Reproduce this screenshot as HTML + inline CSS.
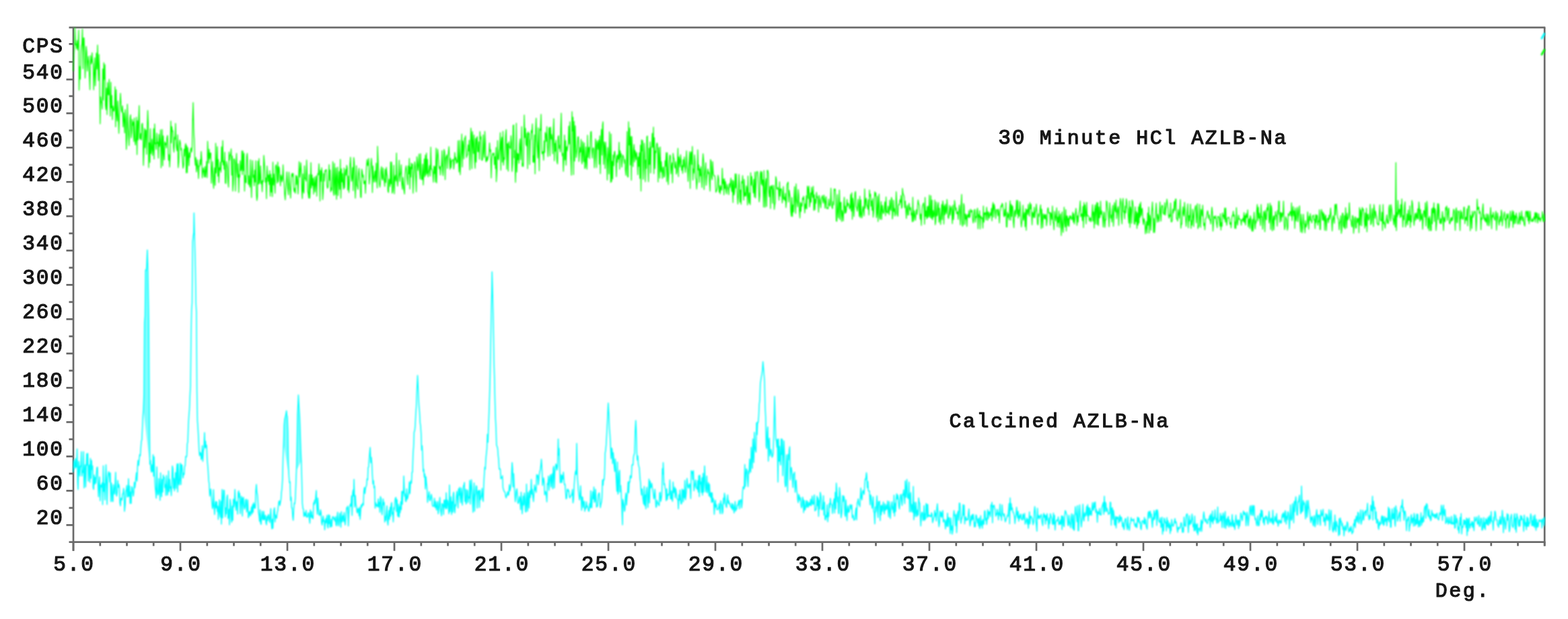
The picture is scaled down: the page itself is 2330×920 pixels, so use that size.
<!DOCTYPE html>
<html lang="en"><head><meta charset="utf-8"><title>XRD patterns</title>
<style>
html,body{margin:0;padding:0;background:#fff}
body{width:2330px;height:920px;overflow:hidden}
svg{display:block}
.t text{font-family:"Liberation Mono","DejaVu Sans Mono",monospace;font-weight:normal;font-size:31.2px;letter-spacing:1.8px;fill:#161616;stroke:#161616;stroke-width:1.2px;stroke-linejoin:round}
.t text.a{font-size:30px;letter-spacing:2.5px}
.t tspan.d{font-size:31.2px;letter-spacing:1.8px}
.c{fill:none;stroke-linejoin:round;stroke-linecap:round}
</style></head>
<body>
<svg width="2330" height="920" viewBox="0 0 2330 920">
<rect width="2330" height="920" fill="#fff"/>
<g stroke="#6a6a6a" stroke-width="2.7" fill="none" stroke-linecap="butt">
<path d="M102.5 40.8H2296.3"/>
<path d="M109.0 40.8V818.8"/>
<path d="M102.5 805.6H2296.3"/>
<path d="M2295.2 40.8V811.6"/>
<path d="M98.5 780.3H109.0M102.5 754.8H109.0M98.5 729.3H109.0M102.5 703.8H109.0M98.5 678.3H109.0M102.5 652.8H109.0M98.5 627.3H109.0M102.5 601.8H109.0M98.5 576.3H109.0M102.5 550.8H109.0M98.5 525.3H109.0M102.5 499.8H109.0M98.5 474.3H109.0M102.5 448.8H109.0M98.5 423.3H109.0M102.5 397.8H109.0M98.5 372.3H109.0M102.5 346.8H109.0M98.5 321.3H109.0M102.5 295.8H109.0M98.5 270.3H109.0M102.5 244.8H109.0M98.5 219.3H109.0M102.5 193.8H109.0M98.5 168.3H109.0M102.5 142.8H109.0M98.5 118.2H109.0M102.5 92.0H109.0M102.5 65.4H109.0"/>
<path d="M109.0 805.6V818.8M148.8 805.6V811.6M188.5 805.6V811.6M228.2 805.6V811.6M268.0 805.6V818.8M307.8 805.6V811.6M347.5 805.6V811.6M387.2 805.6V811.6M427.0 805.6V818.8M466.8 805.6V811.6M506.5 805.6V811.6M546.2 805.6V811.6M586.0 805.6V818.8M625.8 805.6V811.6M665.5 805.6V811.6M705.2 805.6V811.6M745.0 805.6V818.8M784.8 805.6V811.6M824.5 805.6V811.6M864.2 805.6V811.6M904.0 805.6V818.8M943.8 805.6V811.6M983.5 805.6V811.6M1023.2 805.6V811.6M1063.0 805.6V818.8M1102.8 805.6V811.6M1142.5 805.6V811.6M1182.2 805.6V811.6M1222.0 805.6V818.8M1261.8 805.6V811.6M1301.5 805.6V811.6M1341.2 805.6V811.6M1381.0 805.6V818.8M1420.8 805.6V811.6M1460.5 805.6V811.6M1500.2 805.6V811.6M1540.0 805.6V818.8M1579.8 805.6V811.6M1619.5 805.6V811.6M1659.2 805.6V811.6M1699.0 805.6V818.8M1738.8 805.6V811.6M1778.5 805.6V811.6M1818.2 805.6V811.6M1858.0 805.6V818.8M1897.8 805.6V811.6M1937.5 805.6V811.6M1977.2 805.6V811.6M2017.0 805.6V818.8M2056.8 805.6V811.6M2096.5 805.6V811.6M2136.2 805.6V811.6M2176.0 805.6V818.8M2215.8 805.6V811.6M2255.5 805.6V811.6M2295.2 805.6V811.6"/>
</g>
<defs><filter id="b" x="0" y="0" width="2330" height="920" filterUnits="userSpaceOnUse"><feGaussianBlur stdDeviation="0.9"/></filter></defs>
<g filter="url(#b)">
<polygon fill="#00ffff" fill-opacity="0.5" points="213.1,609.4 213.9,585.8 214.7,479.2 215.5,469.6 216.3,401.4 217.1,402.3 217.9,396.5 218.9,371.5 219.5,389.8 220.3,429.7 221.1,478.3 221.9,599.2 222.7,690.1"/>
<polygon fill="#00ffff" fill-opacity="0.5" points="421.4,659.5 422.2,631.8 423.0,623.2 423.8,620.0 424.6,616.8 425.7,610.5 426.2,616.4 427.0,619.8 427.8,641.0 428.6,691.2 429.4,708.2"/>
<polygon fill="#00ffff" fill-opacity="0.5" points="440.5,699.5 441.3,667.1 442.1,617.4 442.9,599.9 443.4,587.0 444.5,607.8 445.3,619.7 446.1,641.9 446.9,667.4 447.7,685.1"/>
<polyline class="c" stroke="#00ffff" stroke-width="1.55" stroke-opacity="1" points="109.0,701.5 109.8,684.1 110.6,690.2 111.4,696.1 112.2,681.5 113.0,693.5 113.8,694.6 114.6,667.2 115.4,716.1 116.0,727.5 117.0,685.8 117.7,694.6 118.5,707.4 119.3,692.9 120.1,693.2 120.9,671.2 121.7,707.5 122.5,699.7 123.3,702.2 124.1,671.2 124.9,725.2 125.7,699.8 126.5,690.8 127.3,723.8 128.1,696.3 128.9,674.3 129.7,691.5 130.5,674.0 131.3,715.0 132.1,694.5 132.9,691.0 133.6,717.0 134.4,681.3 135.2,711.1 136.0,684.3 136.8,697.8 137.6,692.5 138.4,724.8 139.2,727.3 140.0,706.0 140.8,719.4 141.6,709.6 142.4,718.0 143.2,705.1 144.0,695.0 144.8,694.3 145.6,719.9 146.4,738.3 147.2,720.2 148.0,708.8 148.8,744.2 149.5,722.2 150.3,720.6 151.1,724.1 151.9,717.5 152.5,750.0 153.5,692.3 154.3,730.3 155.1,718.8 155.9,743.1 156.7,713.9 157.5,690.8 158.3,719.0 159.1,749.8 159.9,714.2 160.7,705.8 161.5,701.0 162.3,703.8 163.1,716.4 163.9,702.7 164.7,745.4 165.4,717.8 166.2,724.2 167.0,744.5 167.8,745.5 168.6,720.3 169.4,728.6 170.2,734.5 171.0,721.7 171.8,702.0 172.6,733.9 173.4,737.3 174.2,731.1 175.0,714.1 175.8,724.3 176.6,720.0 177.4,724.7 178.2,747.4 179.0,751.8 179.8,740.9 180.6,740.2 181.3,743.1 182.1,734.0 182.9,734.0 183.7,725.9 184.5,736.1 185.0,760.0 186.1,749.5 186.9,730.5 187.7,727.9 188.5,721.5 189.3,738.6 190.1,737.9 190.9,711.5 191.7,737.5 192.5,722.3 193.3,748.2 194.1,731.2 194.9,748.3 195.7,723.4 196.5,725.1 197.2,730.8 198.0,737.3 198.8,732.0 199.6,716.7 200.4,725.0 201.2,718.4 202.0,709.6 202.8,702.5 203.6,714.9 204.4,693.4 205.2,684.3 206.0,691.7 206.8,682.5 207.6,675.7 208.4,677.5 209.2,666.2 210.0,656.3 210.8,653.5 211.6,636.8 212.4,617.2 213.1,609.4 213.9,585.8 214.7,479.2 215.5,469.6 216.3,401.4 217.1,402.3 217.9,396.5 218.9,371.5 219.5,389.8 220.3,429.7 221.1,478.3 221.9,599.2 222.7,690.1 223.5,684.4 224.3,697.5 225.1,701.7 225.9,690.7 226.7,700.8 227.5,675.7 228.3,707.7 229.0,678.9 229.8,707.1 230.6,723.8 231.4,731.2 232.2,740.5 233.0,693.9 233.8,728.8 234.6,735.7 235.4,733.6 236.2,711.3 237.0,727.6 237.8,743.6 238.6,702.7 239.4,729.0 240.2,738.2 241.0,712.4 241.8,731.2 242.6,706.1 243.4,709.8 244.2,709.5 244.9,724.8 245.7,720.3 246.5,736.2 247.3,706.8 248.1,719.1 248.9,735.8 249.7,729.4 250.5,699.9 251.3,730.7 252.1,712.6 252.9,725.6 253.7,723.5 254.5,736.6 255.3,719.2 256.1,692.6 256.9,696.3 257.7,725.8 258.5,711.0 259.3,729.6 260.1,716.9 260.8,702.5 261.6,726.0 262.4,700.6 263.2,689.5 264.0,731.2 264.8,689.2 265.6,717.5 266.4,720.8 267.2,710.6 268.0,688.4 268.8,720.3 269.6,690.5 270.4,691.1 271.2,700.7 272.0,710.4 272.8,703.3 273.6,705.3 274.4,693.0 275.2,692.4 276.0,678.4 276.7,679.2 277.5,678.1 278.3,659.6 279.1,656.5 279.9,632.4 280.7,617.9 281.5,608.8 282.3,588.3 283.1,573.2 283.9,500.2 284.7,460.2 285.5,450.0 286.3,358.8 287.1,351.2 287.9,345.5 288.3,316.5 289.5,366.8 290.3,397.2 291.1,449.3 291.9,464.4 292.6,580.3 293.4,625.7 294.2,637.0 295.0,650.9 295.8,668.6 296.6,677.2 297.4,672.5 298.2,673.1 299.0,682.9 299.8,680.2 300.6,662.4 301.4,685.7 302.2,669.5 303.0,667.6 303.9,643.0 304.6,665.1 305.4,655.7 306.2,665.6 307.0,661.7 307.8,682.0 308.5,690.0 309.3,699.6 310.1,713.9 310.9,719.7 311.7,737.2 312.5,730.9 313.3,726.8 314.1,739.0 314.9,747.6 315.7,755.9 316.5,752.8 317.3,727.7 318.1,751.3 318.9,764.6 319.7,751.0 320.5,745.4 321.3,755.1 322.1,745.7 322.9,760.2 323.7,752.2 324.4,771.9 325.2,760.2 326.0,742.7 326.8,762.9 327.6,768.7 328.4,745.0 329.0,779.0 330.0,727.5 330.8,769.8 331.6,745.5 332.4,728.5 333.2,728.9 334.0,752.2 334.8,768.1 335.6,754.7 336.4,763.8 337.2,739.2 338.0,735.8 338.8,770.7 339.6,764.7 340.3,756.9 341.0,780.0 341.9,742.1 342.7,749.1 343.5,768.9 344.3,776.3 345.1,752.2 345.9,773.2 346.7,742.1 347.5,753.2 348.3,745.8 349.1,727.6 349.9,750.2 350.7,758.5 351.5,745.4 352.3,746.4 353.1,764.1 353.9,732.4 354.7,729.5 355.5,739.7 356.2,733.3 357.0,763.5 357.8,751.3 358.6,737.6 359.4,740.6 360.2,767.1 361.0,740.8 361.8,739.1 362.6,751.7 363.4,756.7 364.2,753.4 365.0,742.9 365.8,742.0 366.6,761.0 367.4,756.0 368.2,743.1 369.0,769.5 369.8,767.2 370.6,760.2 371.4,761.5 372.1,766.6 372.9,759.8 373.7,753.6 374.5,763.9 375.3,750.1 376.1,761.3 376.9,747.2 377.7,754.9 378.5,749.9 379.3,755.4 380.1,730.3 381.0,720.0 381.7,731.6 382.5,735.0 383.3,746.1 384.1,761.2 384.9,766.0 385.7,774.7 386.5,757.7 387.3,777.8 388.0,779.4 388.8,767.7 389.6,759.7 390.4,771.4 391.2,772.5 392.0,760.0 392.8,772.4 393.6,770.4 394.4,765.7 395.2,776.8 396.0,779.9 396.8,767.7 397.6,773.7 398.4,766.0 399.2,764.7 400.0,772.4 400.8,776.4 401.6,766.3 402.4,755.9 403.2,777.2 404.0,786.0 404.7,771.8 405.5,785.1 406.3,768.7 407.1,757.6 407.9,754.8 408.7,775.8 409.5,765.2 410.3,768.5 411.1,770.3 411.9,762.3 412.7,759.4 413.5,752.8 414.3,745.8 415.1,744.4 415.9,751.1 416.7,746.3 417.5,742.4 418.3,731.3 419.1,725.0 419.8,712.7 420.6,680.4 421.4,659.5 422.2,631.8 423.0,623.2 423.8,620.0 424.6,616.8 425.7,610.5 426.2,616.4 427.0,619.8 427.8,641.0 428.6,691.2 429.4,708.2 430.2,717.5 431.0,716.1 431.8,743.8 432.6,738.9 433.4,755.0 434.2,755.1 435.0,768.2 435.7,773.3 436.5,757.3 437.3,747.8 438.1,748.6 438.9,739.8 439.7,719.6 440.5,699.5 441.3,667.1 442.1,617.4 442.9,599.9 443.4,587.0 444.5,607.8 445.3,619.7 446.1,641.9 446.9,667.4 447.7,685.1 448.5,714.2 449.3,748.1 450.1,755.7 450.9,756.8 451.6,767.6 452.4,761.7 453.2,766.4 454.0,766.8 454.8,758.5 455.6,768.7 456.4,767.8 457.2,768.1 458.0,762.8 458.8,762.1 459.6,771.1 460.4,777.6 461.2,757.7 462.0,768.2 462.8,760.5 463.6,769.7 464.4,766.5 465.2,770.9 466.0,747.2 466.8,750.1 467.5,743.5 468.3,747.9 469.1,739.2 470.0,729.0 470.7,751.7 471.5,764.1 472.3,740.3 473.1,755.2 473.9,764.6 474.7,766.0 475.5,765.2 476.3,757.7 477.1,762.1 477.9,776.6 478.7,780.3 479.5,773.3 480.3,767.0 481.1,775.1 481.9,773.5 482.5,787.5 483.4,776.7 484.2,770.9 485.0,777.0 485.8,766.0 486.6,781.8 487.4,784.7 488.2,765.1 489.0,778.2 489.8,766.1 490.6,783.6 491.4,782.1 492.2,772.0 493.0,782.8 493.8,769.9 494.6,767.7 495.4,768.3 496.2,772.1 497.0,770.4 497.8,774.6 498.6,767.8 499.3,779.6 500.1,781.5 500.9,768.8 501.7,761.2 502.5,778.5 503.3,781.6 504.1,771.3 504.9,762.7 505.7,774.4 506.5,783.6 507.3,760.4 508.1,775.6 508.9,769.9 509.7,766.2 510.5,775.1 511.3,761.7 512.1,772.8 512.9,780.2 513.7,770.9 514.5,761.6 515.2,754.2 516.0,756.4 516.8,752.2 517.6,781.7 518.4,763.7 519.2,755.2 520.0,751.7 520.8,749.1 521.6,752.2 522.4,736.9 523.2,766.1 524.0,733.4 524.8,728.2 525.6,737.3 526.0,712.5 527.2,753.6 528.0,736.4 528.8,749.3 529.6,752.5 530.4,760.7 531.1,762.3 531.9,756.0 532.7,756.3 533.5,766.6 534.3,754.0 535.1,772.0 535.9,760.0 536.7,750.5 537.5,753.9 538.3,749.9 539.1,748.0 539.9,750.9 540.7,730.3 541.5,724.5 542.3,733.5 543.1,725.5 543.9,723.3 544.7,720.9 545.5,711.8 546.3,713.3 547.0,694.8 547.8,694.3 548.6,681.3 549.4,672.3 550.0,665.0 551.0,687.8 551.8,679.7 552.6,690.2 553.4,706.8 554.2,719.2 555.0,714.4 555.8,725.2 556.6,722.6 557.4,755.3 558.2,747.1 559.0,751.5 559.8,750.0 560.6,753.4 561.4,750.8 562.2,741.5 562.9,753.6 563.7,746.8 564.5,761.4 565.3,738.0 566.1,740.6 566.9,756.1 567.7,764.9 568.5,751.4 569.3,741.5 570.1,750.4 570.9,746.7 571.7,776.0 572.5,767.5 573.3,773.5 574.1,762.1 574.9,751.9 575.7,774.7 576.5,780.5 577.3,766.4 578.1,758.6 578.8,772.0 579.6,754.1 580.4,767.5 581.2,749.9 582.0,746.9 582.8,764.4 583.6,761.5 584.4,775.7 585.2,754.4 586.0,757.5 586.8,745.3 587.6,740.1 588.4,739.4 589.2,760.2 590.0,742.7 590.8,765.4 591.6,767.7 592.4,749.6 593.2,768.5 594.0,753.3 594.7,761.7 595.5,745.7 596.3,757.4 597.1,730.2 597.9,749.5 598.7,730.4 599.5,732.8 600.0,707.5 601.1,737.1 601.9,733.9 602.7,745.0 603.5,745.4 604.3,726.6 605.1,742.0 605.9,739.9 606.7,736.2 607.5,731.8 608.3,716.3 609.1,733.6 609.9,718.8 610.6,714.6 611.4,718.2 612.2,702.1 613.0,701.8 613.8,674.1 614.6,664.0 615.4,642.1 616.2,640.3 617.0,632.7 617.8,615.5 618.6,604.9 619.4,583.0 620.5,558.0 621.0,568.4 621.8,588.3 622.6,603.4 623.4,612.0 624.2,627.5 625.0,633.3 625.8,645.3 626.5,668.9 627.3,662.5 628.1,679.2 628.9,700.7 629.7,697.5 630.5,709.1 631.3,704.6 632.1,726.8 632.9,708.6 633.7,718.1 634.5,724.3 635.3,746.6 636.1,739.4 636.9,736.6 637.7,730.9 638.5,744.0 639.3,743.7 640.1,739.3 640.9,734.8 641.7,739.1 642.4,750.4 643.2,752.6 644.0,752.3 644.8,752.0 645.6,740.5 646.4,754.1 647.2,745.3 648.0,754.4 648.8,758.1 649.6,748.3 650.4,745.3 651.2,763.6 652.0,757.9 652.8,748.8 653.6,739.2 654.4,754.6 655.2,761.4 656.0,766.6 656.8,748.5 657.6,748.9 658.3,751.1 659.1,764.8 659.9,743.2 660.7,753.8 661.5,743.2 662.3,756.2 663.1,732.4 663.9,755.8 664.7,743.2 665.5,745.7 666.3,755.3 667.1,763.6 667.9,720.8 668.7,760.4 669.5,752.6 670.3,738.2 671.1,764.7 671.9,745.7 672.7,761.3 673.5,734.8 674.2,731.5 675.0,757.9 675.8,762.1 676.6,749.7 677.4,752.0 678.2,737.9 679.0,730.3 679.8,740.6 680.6,755.0 681.4,726.6 682.2,736.0 683.0,724.3 683.8,740.3 684.6,747.2 685.4,725.2 686.2,732.9 687.0,750.7 687.8,735.0 688.6,722.2 689.4,721.1 690.1,717.1 690.9,745.4 691.7,727.3 692.5,749.2 693.3,747.2 694.1,728.1 694.9,729.7 695.7,746.8 696.5,738.6 697.3,740.3 698.1,714.0 698.9,749.3 699.7,724.4 700.5,713.1 701.3,727.9 702.1,743.2 702.9,761.4 703.7,731.4 704.5,717.7 705.3,759.8 706.0,738.7 706.8,732.9 707.6,722.0 708.4,723.1 709.2,755.1 710.0,732.6 710.8,729.3 711.6,729.6 712.4,754.2 713.2,728.8 714.0,742.6 714.8,738.3 715.6,737.8 716.4,725.9 717.2,741.8 718.0,745.3 718.8,721.0 719.6,706.1 720.4,694.4 721.2,697.2 721.9,683.4 722.7,674.8 723.5,667.3 724.3,645.5 725.1,657.2 725.9,634.2 726.7,613.1 727.5,588.3 728.3,560.0 729.1,515.8 729.9,468.8 730.7,436.1 731.2,404.0 732.3,446.2 733.1,480.0 733.9,533.1 734.7,559.5 735.5,594.9 736.3,622.7 737.1,637.1 737.8,661.2 738.6,663.4 739.4,666.0 740.2,675.8 741.0,683.4 741.8,697.3 742.6,696.6 743.4,697.5 744.2,711.6 745.0,710.2 745.8,710.4 746.6,707.1 747.4,725.0 748.2,727.5 749.0,730.2 749.8,730.9 750.6,732.2 751.4,737.9 752.2,739.9 753.0,736.1 753.7,734.8 754.5,730.9 755.3,736.3 756.1,733.7 756.9,720.4 757.7,729.7 758.5,725.7 759.3,721.7 760.1,707.3 761.0,687.5 761.7,696.2 762.5,723.4 763.3,704.0 764.1,723.7 764.9,730.5 765.7,745.6 766.5,738.7 767.3,730.1 768.1,726.6 768.9,736.2 769.6,747.9 770.4,747.9 771.2,744.4 772.0,738.1 772.8,743.3 773.6,757.4 774.4,731.5 775.2,744.8 776.0,763.6 776.8,750.2 777.6,737.4 778.4,750.6 779.2,732.7 780.0,741.6 780.8,760.3 781.6,761.0 782.4,719.6 783.2,748.4 784.0,759.8 784.8,731.8 785.5,740.9 786.3,755.1 787.1,729.3 787.9,739.6 788.7,732.3 789.5,712.5 790.3,734.6 791.1,727.4 791.9,738.7 792.7,745.4 793.5,733.4 794.3,720.8 795.1,728.4 795.9,724.5 796.7,731.8 797.5,705.4 798.3,709.4 799.1,706.3 799.9,720.5 800.7,713.1 801.4,704.9 802.2,700.2 803.0,697.7 803.8,690.5 804.5,682.5 805.4,697.5 806.2,721.5 807.0,716.4 807.8,710.3 808.6,715.8 809.4,735.5 810.2,730.3 811.0,731.0 811.8,736.8 812.6,745.9 813.4,718.6 814.2,720.1 815.0,707.5 815.8,728.7 816.6,716.0 817.3,709.6 818.1,705.5 818.9,723.8 819.7,710.5 820.5,704.2 821.3,726.4 822.1,696.2 822.9,693.1 823.7,725.2 824.5,701.8 825.3,697.3 826.1,689.5 826.9,691.1 827.7,698.6 828.5,693.9 829.5,652.5 830.1,676.4 830.9,666.5 831.7,697.4 832.5,717.4 833.2,716.5 834.0,705.6 834.8,717.3 835.6,706.9 836.4,712.0 837.2,701.8 838.0,713.4 838.8,720.3 839.6,719.7 840.4,731.0 841.2,741.5 842.0,740.6 842.8,728.1 843.6,726.8 844.4,730.0 845.2,729.1 846.0,737.2 846.8,740.0 847.6,737.5 848.4,737.1 849.1,736.3 849.9,733.3 850.7,727.6 851.5,747.4 852.3,741.8 853.1,723.0 853.9,711.6 854.7,703.5 855.5,699.7 856.3,705.1 857.0,659.0 857.9,706.8 858.7,718.2 859.5,729.5 860.3,736.0 861.1,743.0 861.9,737.4 862.7,722.1 863.5,739.8 864.3,758.5 865.0,738.5 865.8,739.3 866.6,754.4 867.4,747.8 868.2,744.9 869.0,760.0 869.8,754.6 870.6,755.6 871.4,745.7 872.2,753.5 873.0,752.2 873.8,755.8 874.6,759.8 875.4,759.8 876.2,748.5 877.0,754.7 877.8,729.4 878.6,754.0 879.4,754.5 880.2,737.2 880.9,730.9 881.7,741.6 882.5,723.8 883.3,746.5 884.1,745.2 884.9,727.3 885.7,740.7 886.5,753.8 887.3,752.9 888.1,751.4 888.9,736.3 889.7,733.6 890.5,732.6 891.3,743.5 892.1,754.5 892.9,749.3 893.7,746.7 894.5,740.2 895.3,713.4 896.1,721.3 896.8,712.5 897.6,713.2 898.4,704.8 899.2,673.7 900.0,668.8 900.8,660.4 901.6,645.1 902.4,629.5 903.2,613.0 903.8,599.0 904.8,616.8 905.6,637.5 906.4,646.1 907.2,661.6 908.0,681.6 908.8,665.9 909.6,668.0 910.4,689.0 911.2,672.7 912.0,681.1 912.7,693.6 913.5,700.7 914.3,682.2 915.1,698.4 915.9,716.1 916.7,730.2 917.5,686.8 918.3,734.4 919.1,730.3 919.9,702.6 920.7,699.1 921.5,731.1 922.3,721.5 923.1,733.8 923.9,749.3 925.0,780.0 925.5,742.3 926.3,746.3 927.1,751.2 927.9,760.0 928.6,757.7 929.4,739.2 930.2,732.8 931.0,750.6 931.8,737.7 932.6,733.3 933.4,716.3 934.2,732.2 935.0,715.7 935.8,716.6 936.6,707.1 937.4,710.4 938.2,709.4 939.0,691.6 939.8,690.3 940.6,691.1 941.4,679.0 942.2,675.5 943.0,673.8 943.8,642.7 944.7,625.0 945.3,636.9 946.1,668.7 946.9,683.7 947.7,677.6 948.5,689.8 949.3,693.1 950.1,695.8 950.9,709.7 951.7,716.6 952.5,728.5 953.3,735.7 954.1,726.5 954.9,736.5 955.7,743.6 956.5,749.2 957.3,722.9 958.1,751.6 958.9,735.8 959.7,756.3 960.4,731.0 961.2,724.3 962.0,736.5 962.8,754.2 963.6,736.8 964.4,712.1 965.2,747.5 966.0,715.1 966.8,725.1 967.6,723.5 968.4,718.2 969.2,724.4 970.0,728.7 970.8,734.2 971.6,741.4 972.4,738.9 973.2,727.3 974.0,741.9 974.8,754.0 975.6,752.8 976.3,743.5 977.1,746.7 977.9,747.8 978.7,750.5 979.5,751.5 980.3,732.6 981.1,731.7 981.9,745.2 982.7,740.8 983.5,735.0 984.3,696.5 985.1,704.5 985.5,687.5 986.7,720.4 987.5,719.0 988.3,725.0 989.1,728.6 989.9,744.2 990.7,726.5 991.5,742.5 992.2,736.9 993.0,734.5 993.8,736.2 994.6,731.2 995.4,713.3 996.2,741.1 997.0,741.4 997.8,729.6 998.6,742.4 999.4,745.1 1000.2,716.4 1001.0,732.2 1001.8,729.1 1002.6,724.1 1003.4,739.8 1004.2,726.6 1005.0,732.2 1005.8,740.5 1006.6,742.2 1007.4,742.4 1008.1,756.4 1008.9,735.2 1009.7,743.2 1010.5,728.3 1011.3,743.3 1012.1,749.0 1012.9,748.5 1013.7,726.9 1014.5,729.3 1015.3,745.7 1016.1,728.3 1016.9,739.7 1017.7,714.1 1018.5,742.8 1019.3,737.0 1020.1,728.3 1020.9,711.1 1021.7,719.8 1022.5,724.1 1023.3,725.6 1024.0,720.6 1024.8,719.0 1025.6,724.6 1026.4,741.0 1027.2,699.6 1028.0,703.3 1028.8,701.0 1029.6,712.7 1030.4,699.6 1031.2,729.5 1032.0,723.3 1032.8,718.7 1033.6,713.3 1034.4,724.6 1035.2,725.1 1036.0,727.2 1036.8,714.5 1037.6,731.3 1038.4,707.0 1039.2,738.1 1039.9,706.3 1040.7,719.5 1041.5,716.4 1042.3,732.0 1043.1,710.0 1043.9,736.1 1044.7,703.6 1045.5,731.4 1046.3,715.8 1047.0,692.5 1047.9,715.9 1048.7,731.1 1049.5,725.1 1050.3,707.6 1051.1,732.5 1051.9,725.6 1052.7,717.2 1053.5,737.0 1054.3,719.9 1055.1,737.0 1055.8,739.2 1056.6,732.3 1057.4,746.8 1058.2,732.4 1059.0,745.9 1059.8,740.7 1060.6,745.9 1061.4,764.4 1062.2,752.2 1063.0,743.4 1063.8,753.8 1064.6,750.0 1065.4,757.3 1066.2,757.7 1067.0,756.2 1067.8,755.4 1068.6,748.2 1069.4,757.6 1070.2,763.5 1071.0,744.2 1071.7,749.6 1072.5,750.2 1073.3,763.5 1074.1,760.7 1074.9,740.6 1075.7,748.8 1076.5,733.0 1077.3,738.2 1078.1,747.1 1078.9,752.1 1079.7,754.1 1080.5,743.5 1081.3,735.5 1082.1,748.0 1082.9,744.3 1083.7,749.1 1084.5,748.3 1085.3,752.7 1086.1,753.2 1086.9,755.2 1087.6,748.0 1088.4,757.7 1089.2,749.7 1090.0,754.0 1090.8,762.4 1091.6,754.4 1092.4,745.2 1093.2,759.6 1094.0,756.3 1094.8,756.6 1095.6,750.6 1096.4,750.9 1097.2,747.0 1098.0,743.7 1098.8,756.2 1099.6,744.4 1100.4,743.2 1101.2,742.8 1102.0,754.8 1102.8,747.1 1103.5,729.8 1104.3,723.7 1105.1,723.6 1105.9,726.6 1106.7,690.4 1107.5,722.9 1108.3,705.4 1109.1,696.8 1109.9,698.8 1110.7,713.3 1111.5,723.2 1112.3,700.1 1113.1,703.9 1113.9,682.3 1114.7,698.9 1115.5,701.7 1116.3,664.7 1117.1,677.0 1117.9,696.1 1118.7,652.4 1119.4,671.9 1120.2,687.5 1121.0,642.5 1121.8,664.0 1122.6,669.3 1123.4,671.9 1124.2,628.3 1125.0,646.0 1125.8,627.3 1126.6,627.9 1127.4,618.9 1128.2,601.1 1129.0,594.6 1129.8,570.6 1130.6,564.8 1131.4,559.7 1132.2,555.4 1133.0,549.1 1133.7,537.6 1134.6,548.1 1135.3,556.3 1136.1,567.6 1136.9,603.4 1137.7,619.4 1138.5,662.6 1139.3,666.5 1140.1,641.9 1140.9,634.5 1141.7,685.4 1142.5,658.3 1143.3,651.2 1144.1,677.6 1144.9,673.1 1145.7,668.1 1146.5,673.4 1147.3,679.7 1148.1,678.0 1148.9,673.3 1149.7,648.8 1150.5,615.2 1151.0,589.0 1152.0,628.2 1152.8,652.9 1153.6,654.7 1154.4,664.6 1155.2,652.9 1156.0,716.6 1156.8,652.4 1157.6,685.3 1158.4,663.4 1159.2,685.5 1160.0,691.1 1160.8,652.2 1161.6,675.4 1162.4,652.9 1163.2,707.0 1164.0,675.8 1164.8,655.3 1165.6,673.3 1166.4,716.7 1167.1,723.4 1167.9,721.5 1168.7,676.0 1169.5,690.7 1170.3,731.0 1171.1,675.5 1171.9,683.6 1172.7,669.2 1173.5,664.0 1174.3,713.1 1175.1,699.7 1175.9,694.7 1176.7,700.8 1177.5,712.8 1178.3,724.4 1179.1,704.5 1179.9,704.9 1180.7,701.7 1181.5,731.6 1182.3,719.3 1183.0,713.8 1183.8,728.0 1184.6,733.3 1185.4,743.0 1186.2,747.0 1187.0,735.0 1187.8,737.3 1188.6,743.8 1189.4,739.8 1190.2,750.2 1191.0,754.7 1191.8,751.6 1192.6,738.9 1193.4,742.2 1194.2,761.9 1195.0,743.7 1195.8,758.0 1196.6,757.3 1197.4,749.5 1198.2,744.0 1198.9,754.3 1199.7,745.0 1200.5,751.2 1201.3,753.8 1202.1,746.7 1202.9,751.1 1203.7,750.5 1204.5,742.1 1205.3,751.6 1206.1,747.2 1206.9,737.3 1207.7,749.4 1208.5,749.6 1209.3,746.2 1210.1,735.6 1210.9,759.3 1211.7,758.2 1212.5,757.6 1213.3,754.1 1214.1,737.4 1214.8,751.5 1215.6,740.1 1216.4,767.4 1217.2,743.8 1218.0,756.5 1218.8,731.7 1219.6,735.5 1220.4,743.1 1221.2,757.7 1222.0,757.0 1222.8,755.3 1223.6,736.7 1224.4,765.6 1225.2,746.6 1226.0,771.7 1226.8,772.7 1227.6,766.1 1228.4,768.3 1229.2,750.2 1230.0,775.4 1230.7,762.2 1231.5,767.6 1232.3,748.6 1233.1,754.3 1233.9,740.8 1234.7,748.8 1235.5,749.8 1236.3,750.8 1237.1,763.1 1237.9,750.3 1238.7,745.7 1239.5,741.2 1240.3,762.5 1241.1,731.8 1241.9,756.2 1242.7,718.0 1243.5,728.6 1244.3,746.0 1245.1,738.7 1245.9,762.3 1246.6,763.5 1247.4,724.6 1248.2,732.0 1249.0,745.4 1249.8,769.4 1250.6,764.6 1251.4,756.2 1252.2,736.5 1253.0,745.2 1253.8,737.2 1254.6,740.3 1255.4,764.2 1256.2,767.5 1257.0,743.1 1257.8,758.2 1258.6,773.7 1259.4,757.3 1260.2,751.9 1261.0,761.4 1261.8,760.7 1262.5,756.3 1263.3,750.1 1264.1,751.4 1264.9,756.8 1265.7,750.4 1266.5,769.7 1267.3,765.3 1268.1,767.4 1268.9,773.2 1269.7,772.7 1270.5,771.2 1271.3,760.6 1272.1,755.0 1272.9,772.7 1273.7,747.3 1274.5,745.9 1275.3,741.5 1276.1,749.8 1276.9,749.6 1277.7,753.0 1278.4,739.6 1279.2,725.2 1280.0,740.1 1280.8,742.9 1281.6,732.7 1282.4,729.0 1283.2,731.5 1284.0,734.7 1284.8,721.9 1285.6,712.1 1286.4,712.9 1287.5,702.5 1288.0,706.4 1288.8,724.9 1289.6,715.5 1290.4,729.3 1291.2,730.0 1292.0,729.7 1292.8,750.1 1293.6,735.5 1294.3,737.3 1295.1,747.8 1295.9,755.4 1296.7,748.3 1297.5,738.4 1298.3,760.6 1299.1,761.6 1299.9,778.6 1300.7,753.6 1301.5,760.8 1302.3,749.5 1303.1,737.0 1303.9,759.0 1304.7,769.3 1305.5,745.6 1306.3,750.3 1307.1,744.9 1307.9,773.7 1308.7,752.1 1309.5,764.9 1310.2,750.8 1311.0,760.0 1311.8,754.0 1312.6,746.0 1313.4,760.3 1314.2,763.7 1315.0,748.8 1315.8,758.4 1316.6,756.1 1317.4,750.6 1318.2,756.6 1319.0,744.5 1319.8,760.1 1320.6,768.2 1321.4,745.6 1322.2,756.3 1323.0,770.6 1323.8,757.4 1324.6,750.4 1325.4,745.7 1326.1,757.1 1326.9,753.3 1327.7,761.9 1328.5,735.9 1329.3,767.1 1330.1,748.2 1330.9,760.1 1331.7,742.0 1332.5,733.9 1333.3,741.7 1334.1,735.9 1334.9,741.7 1335.7,752.6 1336.5,756.4 1337.3,744.9 1338.1,735.2 1338.9,735.1 1339.7,745.7 1340.5,751.2 1341.3,734.2 1342.0,736.1 1342.8,728.1 1343.6,739.4 1344.4,748.5 1345.2,714.9 1346.0,739.0 1346.8,727.9 1347.6,712.6 1348.4,739.7 1349.2,734.4 1350.0,741.2 1350.8,716.5 1351.6,760.7 1352.4,738.5 1353.2,732.0 1354.0,760.8 1354.8,749.6 1355.6,754.4 1356.4,761.4 1357.2,723.0 1357.9,772.4 1358.7,746.5 1359.5,757.6 1360.3,767.8 1361.1,746.6 1361.9,761.1 1362.7,767.6 1363.5,758.0 1364.3,765.5 1365.1,740.1 1365.9,746.3 1366.7,747.8 1367.5,766.9 1368.3,781.8 1369.1,765.7 1369.9,761.2 1370.7,762.2 1371.5,773.6 1372.3,770.7 1373.1,751.5 1373.8,773.6 1374.6,763.3 1375.4,771.5 1376.2,748.3 1377.0,749.7 1377.8,769.3 1378.6,749.8 1379.4,767.5 1380.2,767.1 1381.0,765.6 1381.8,767.3 1382.6,766.6 1383.4,768.0 1384.2,762.0 1385.0,764.8 1385.8,776.8 1386.6,773.5 1387.4,769.8 1388.2,768.2 1389.0,758.7 1389.7,767.0 1390.5,762.7 1391.3,774.2 1392.1,755.8 1392.9,748.7 1393.7,760.4 1394.5,773.3 1395.3,782.8 1396.1,777.3 1396.9,759.7 1397.7,767.2 1398.5,761.6 1399.3,768.9 1400.1,763.8 1400.9,758.7 1401.7,775.8 1402.5,774.4 1403.3,772.4 1404.1,776.7 1404.9,786.1 1405.6,776.0 1406.4,772.6 1407.2,782.4 1408.0,762.7 1408.8,782.4 1409.6,769.7 1410.4,769.3 1411.2,777.9 1412.0,793.0 1412.8,769.9 1413.6,787.4 1414.4,781.8 1415.0,794.0 1416.0,787.4 1416.8,767.2 1417.6,758.9 1418.4,766.0 1419.2,765.9 1420.0,781.3 1420.8,764.3 1421.5,791.7 1422.3,775.0 1423.1,762.1 1423.9,759.8 1424.7,773.3 1425.5,747.8 1426.3,748.1 1427.1,758.3 1427.9,777.8 1428.7,772.0 1429.5,769.9 1430.3,767.0 1431.1,750.0 1431.9,765.7 1432.7,750.7 1433.5,778.7 1434.3,769.2 1435.1,768.3 1435.9,773.4 1436.7,772.4 1437.4,771.4 1438.2,772.4 1439.0,763.3 1439.8,756.4 1440.6,771.9 1441.4,781.6 1442.2,777.4 1443.0,766.9 1443.8,773.6 1444.6,765.0 1445.4,771.7 1446.2,764.4 1447.0,770.7 1447.8,783.1 1448.6,776.6 1449.4,782.8 1450.2,765.3 1451.0,766.4 1451.8,772.0 1452.6,777.2 1453.3,771.6 1454.1,781.8 1454.9,769.7 1455.7,785.5 1456.5,782.9 1457.3,766.4 1458.1,780.7 1458.9,774.6 1459.7,785.1 1460.5,772.1 1461.3,778.2 1462.1,779.3 1462.9,760.1 1463.7,759.1 1464.5,773.3 1465.3,770.3 1466.1,779.4 1466.9,771.7 1467.7,757.6 1468.5,770.9 1469.2,760.4 1470.0,764.2 1470.8,760.8 1471.6,767.8 1472.4,750.5 1473.2,752.4 1474.0,746.5 1474.8,776.9 1475.6,751.7 1476.4,753.1 1477.2,750.7 1478.0,755.6 1478.8,757.6 1479.6,767.3 1480.4,763.5 1481.2,764.9 1482.0,757.0 1482.8,761.7 1483.6,772.8 1484.4,762.4 1485.1,765.2 1485.9,749.2 1486.7,767.2 1487.5,765.2 1488.3,773.5 1489.1,750.3 1489.9,763.7 1490.7,764.0 1491.5,767.1 1492.3,763.7 1493.1,771.0 1493.9,775.6 1494.7,773.0 1495.5,770.4 1496.3,768.9 1497.1,765.4 1497.9,767.3 1498.7,757.5 1499.5,748.2 1500.3,778.6 1501.0,740.0 1501.8,758.6 1502.6,748.5 1503.4,757.3 1504.2,754.9 1505.0,761.2 1505.8,761.3 1506.6,764.4 1507.4,767.6 1508.2,778.2 1509.0,767.6 1509.8,765.4 1510.6,753.9 1511.4,764.3 1512.2,769.8 1513.0,759.9 1513.8,774.7 1514.6,766.7 1515.4,770.6 1516.2,764.1 1516.9,764.8 1517.7,770.9 1518.5,772.6 1519.3,772.8 1520.1,764.0 1520.9,766.6 1521.7,771.9 1522.5,763.0 1523.3,779.0 1524.1,775.4 1524.9,774.4 1525.7,770.1 1526.5,778.7 1527.3,771.8 1528.1,785.2 1528.9,776.0 1529.7,760.8 1530.5,778.7 1531.3,767.5 1532.1,767.1 1532.8,769.4 1533.6,770.2 1534.4,774.1 1535.2,779.8 1536.0,776.2 1536.8,761.5 1537.6,752.9 1538.4,760.2 1539.2,774.5 1540.0,780.3 1540.8,789.4 1541.6,755.4 1542.4,770.8 1543.2,767.6 1544.0,766.0 1544.8,771.2 1545.6,767.6 1546.4,767.5 1547.2,764.4 1548.0,772.8 1548.7,777.5 1549.5,781.1 1550.3,766.2 1551.1,763.0 1551.9,768.9 1552.7,765.4 1553.5,778.9 1554.3,766.4 1555.1,773.2 1555.9,763.4 1556.7,771.1 1557.5,775.5 1558.3,785.8 1559.1,769.9 1559.9,778.2 1560.7,763.5 1561.5,766.2 1562.3,769.1 1563.1,771.3 1563.9,778.3 1564.6,779.7 1565.4,762.6 1566.2,778.7 1567.0,765.9 1567.8,787.8 1568.6,776.8 1569.4,775.4 1570.2,772.7 1571.0,773.7 1571.8,773.9 1572.6,768.2 1573.4,779.6 1574.2,775.7 1575.0,779.4 1575.8,772.8 1576.6,778.7 1577.4,766.8 1578.2,787.0 1579.0,767.0 1579.8,769.0 1580.5,780.6 1581.3,782.8 1582.1,765.7 1582.9,758.9 1583.7,760.3 1584.5,763.6 1585.3,765.2 1586.1,770.3 1586.9,780.7 1587.7,781.2 1588.5,765.8 1589.3,776.2 1590.1,779.4 1590.9,784.3 1591.7,769.3 1592.5,763.5 1593.3,778.0 1594.1,785.7 1594.9,765.0 1595.7,787.9 1596.4,788.0 1597.2,767.2 1598.0,753.0 1598.8,763.2 1599.6,765.7 1600.4,775.4 1601.2,751.5 1602.0,788.7 1602.8,788.8 1603.6,760.5 1604.4,750.2 1605.2,766.6 1606.0,773.1 1606.8,783.1 1607.6,775.3 1608.4,764.6 1609.2,749.4 1610.0,771.4 1610.8,774.3 1611.6,762.0 1612.3,767.4 1613.1,766.2 1613.9,761.5 1614.7,752.7 1615.5,766.1 1616.3,750.0 1617.1,774.2 1617.9,754.2 1618.7,766.0 1619.5,755.3 1620.3,764.8 1621.1,759.6 1621.9,766.0 1622.7,754.2 1623.5,747.0 1624.3,758.5 1625.1,757.7 1625.9,747.0 1626.7,754.3 1627.5,746.0 1628.2,761.6 1629.0,756.9 1629.8,760.5 1630.6,776.2 1631.4,760.6 1632.2,762.1 1633.0,763.9 1633.8,755.8 1634.6,765.1 1635.4,764.5 1636.2,765.4 1637.0,755.5 1637.8,752.4 1638.6,749.8 1639.4,746.9 1640.2,764.5 1641.0,737.5 1641.8,760.4 1642.6,746.4 1643.4,748.9 1644.1,760.1 1644.9,755.3 1645.7,758.4 1646.5,761.6 1647.3,764.8 1648.1,762.9 1648.9,763.1 1649.7,746.2 1650.5,747.1 1651.3,780.6 1652.1,755.8 1652.9,754.6 1653.7,772.0 1654.5,758.4 1655.3,764.4 1656.1,779.4 1656.9,780.7 1657.7,767.6 1658.5,784.7 1659.3,769.0 1660.0,768.4 1660.8,771.2 1661.6,768.5 1662.4,777.1 1663.2,775.0 1664.0,765.5 1664.8,774.7 1665.6,768.6 1666.4,768.8 1667.2,773.0 1668.0,782.7 1668.8,777.0 1669.6,784.8 1670.4,787.1 1671.2,775.4 1672.0,771.5 1672.8,770.5 1673.6,778.2 1674.4,782.3 1675.2,787.2 1675.9,768.3 1676.7,783.0 1677.5,784.0 1678.3,788.1 1679.1,778.8 1679.9,777.7 1680.7,769.3 1681.5,773.9 1682.3,772.4 1683.1,773.2 1683.9,774.1 1684.7,771.2 1685.5,778.5 1686.3,780.8 1687.1,782.6 1687.9,777.7 1688.7,783.9 1689.5,783.8 1690.3,768.7 1691.1,775.7 1691.8,769.5 1692.6,770.8 1693.4,777.7 1694.2,775.5 1695.0,785.5 1695.8,787.1 1696.6,778.4 1697.4,774.0 1698.2,774.1 1699.0,774.8 1699.8,778.7 1700.6,769.1 1701.4,778.4 1702.2,772.1 1703.0,781.6 1703.8,783.8 1704.6,786.4 1705.4,771.7 1706.2,762.2 1707.0,760.2 1707.7,770.1 1708.5,761.3 1709.3,759.8 1710.1,769.0 1710.9,764.1 1711.7,776.5 1712.5,783.8 1713.3,769.2 1714.1,773.0 1714.9,758.9 1715.7,771.6 1716.5,764.9 1717.3,761.9 1718.1,758.1 1718.9,780.9 1719.7,757.8 1720.5,761.2 1721.3,771.3 1722.1,774.7 1722.9,776.1 1723.6,776.1 1724.4,769.6 1725.2,783.9 1726.0,780.7 1726.8,768.8 1727.5,794.0 1728.4,778.9 1729.2,789.2 1730.0,770.0 1730.8,772.2 1731.6,777.0 1732.4,776.2 1733.2,789.1 1734.0,769.3 1734.8,782.6 1735.6,773.9 1736.4,785.0 1737.2,782.7 1738.0,777.3 1738.8,793.0 1739.5,780.8 1740.3,788.6 1741.1,772.1 1741.9,780.2 1742.7,781.6 1743.5,781.9 1744.3,778.7 1745.1,775.6 1745.9,770.7 1746.7,777.3 1747.5,775.2 1748.3,779.1 1749.1,785.9 1749.9,791.1 1750.7,783.7 1751.5,786.8 1752.3,784.1 1753.1,784.7 1753.9,783.7 1754.7,777.5 1755.4,776.9 1756.2,781.5 1757.0,791.3 1757.8,784.7 1758.6,790.9 1759.4,768.5 1760.2,780.4 1761.0,781.4 1761.8,782.2 1762.6,766.6 1763.4,764.2 1764.2,763.8 1765.0,774.0 1765.8,791.5 1766.6,779.0 1767.4,766.3 1768.2,779.8 1769.0,773.9 1769.8,778.0 1770.6,772.1 1771.3,764.0 1772.1,771.0 1772.9,783.0 1773.7,779.5 1774.5,788.9 1775.3,767.0 1776.1,788.3 1776.9,779.0 1777.7,780.7 1778.5,791.8 1779.3,778.4 1780.0,795.0 1780.9,785.8 1781.7,785.1 1782.5,786.0 1783.3,789.6 1784.1,781.9 1784.9,772.7 1785.7,789.7 1786.5,775.1 1787.2,777.8 1788.0,768.3 1788.8,760.8 1789.6,767.2 1790.4,772.8 1791.2,775.3 1792.0,771.3 1792.8,776.0 1793.6,777.8 1794.4,778.2 1795.2,771.9 1796.0,772.7 1796.8,770.9 1797.6,766.4 1798.4,783.9 1799.2,763.9 1800.0,773.2 1800.8,775.2 1801.6,759.5 1802.4,778.4 1803.1,769.1 1803.9,773.3 1804.7,768.3 1805.5,757.8 1806.3,771.8 1807.1,770.5 1807.9,777.7 1808.7,772.8 1809.5,753.6 1810.3,777.4 1811.1,774.5 1811.9,774.6 1812.7,772.7 1813.5,762.9 1814.3,774.0 1815.1,766.9 1815.9,783.9 1816.7,769.0 1817.5,762.4 1818.3,769.2 1819.0,784.1 1819.8,768.5 1820.6,760.2 1821.4,785.5 1822.2,777.1 1823.0,771.3 1823.8,781.0 1824.6,769.1 1825.4,767.6 1826.2,783.5 1827.0,772.7 1827.8,780.4 1828.6,776.7 1829.4,782.7 1830.2,777.5 1831.0,764.7 1831.8,781.7 1832.6,773.6 1833.4,783.2 1834.2,777.8 1834.9,787.0 1835.7,775.0 1836.5,765.6 1837.3,775.1 1838.1,780.4 1838.9,774.0 1839.7,772.5 1840.5,785.6 1841.3,773.6 1842.1,781.7 1842.9,774.7 1843.7,762.5 1844.5,765.6 1845.3,769.7 1846.1,773.8 1846.9,764.8 1847.7,759.6 1848.5,762.0 1849.3,765.3 1850.1,761.9 1850.8,764.0 1851.6,781.4 1852.4,770.6 1853.2,761.3 1854.0,767.8 1854.8,781.3 1855.6,773.2 1856.4,766.5 1857.2,755.1 1858.0,751.8 1858.8,763.7 1859.6,765.7 1860.4,751.2 1861.2,753.7 1862.0,766.2 1862.8,751.4 1863.6,751.9 1864.4,766.8 1865.2,772.4 1866.0,770.4 1866.7,776.3 1867.5,781.2 1868.3,775.6 1869.1,766.5 1869.9,781.4 1870.7,781.3 1871.5,776.3 1872.3,763.6 1873.1,772.6 1873.9,758.1 1874.7,767.9 1875.5,758.7 1876.3,767.1 1877.1,776.8 1877.9,769.7 1878.7,780.3 1879.5,769.2 1880.3,769.7 1881.1,766.8 1881.9,772.3 1882.6,768.3 1883.4,776.5 1884.2,779.0 1885.0,770.5 1885.8,760.1 1886.6,771.4 1887.4,776.6 1888.2,772.1 1889.0,770.1 1889.8,774.8 1890.6,777.6 1891.4,758.3 1892.2,779.6 1893.0,775.1 1893.8,773.7 1894.6,767.6 1895.4,772.8 1896.2,775.6 1897.0,763.3 1897.8,777.1 1898.5,773.5 1899.3,782.1 1900.1,777.8 1900.9,772.7 1901.7,774.0 1902.5,777.7 1903.3,774.4 1904.1,777.1 1904.9,768.2 1905.7,764.0 1906.5,768.8 1907.3,761.9 1908.1,766.7 1908.9,775.7 1909.7,759.0 1910.5,762.0 1911.3,779.0 1912.1,767.6 1912.9,772.2 1913.7,760.5 1914.4,762.0 1915.2,768.6 1916.0,785.9 1916.8,773.0 1917.6,750.3 1918.4,770.1 1919.2,773.3 1920.0,769.5 1920.8,748.5 1921.6,758.9 1922.4,777.1 1923.2,745.3 1924.0,760.4 1924.8,745.3 1925.6,738.3 1926.4,748.5 1927.2,765.2 1928.0,765.6 1928.8,745.5 1929.6,746.1 1930.3,740.6 1931.1,735.9 1931.9,753.3 1932.7,763.4 1933.5,761.7 1934.0,722.5 1935.1,760.4 1935.9,758.7 1936.7,744.1 1937.5,749.5 1938.3,747.4 1939.1,755.2 1939.9,771.1 1940.7,751.2 1941.5,744.2 1942.3,768.6 1943.1,760.9 1943.9,743.8 1944.7,753.0 1945.5,756.6 1946.2,760.4 1947.0,770.0 1947.8,776.7 1948.6,768.9 1949.4,772.6 1950.2,767.4 1951.0,779.3 1951.8,781.5 1952.6,769.9 1953.4,766.2 1954.2,782.9 1955.0,778.0 1955.8,764.1 1956.6,757.6 1957.4,768.1 1958.2,779.7 1959.0,765.6 1959.8,767.7 1960.6,765.4 1961.4,774.7 1962.1,780.8 1962.9,758.0 1963.7,766.1 1964.5,766.6 1965.3,762.6 1966.1,757.1 1966.9,775.1 1967.7,768.9 1968.5,773.9 1969.3,781.3 1970.1,763.4 1970.9,773.0 1971.7,764.8 1972.5,768.7 1973.3,773.7 1974.1,769.8 1974.9,757.5 1975.7,788.0 1976.5,775.6 1977.3,763.6 1978.0,758.6 1978.8,776.5 1979.6,784.2 1980.4,788.8 1981.2,790.8 1982.0,776.5 1982.8,787.5 1983.6,765.4 1984.4,782.6 1985.2,790.3 1986.0,775.1 1986.8,779.7 1987.6,782.4 1988.4,782.8 1989.2,796.1 1990.0,771.1 1990.8,794.6 1991.6,769.8 1992.4,775.5 1993.2,774.7 1993.9,781.4 1994.7,777.9 1995.5,786.9 1996.3,782.9 1997.1,796.5 1997.9,786.5 1998.7,781.3 1999.5,786.7 2000.3,788.7 2001.1,782.5 2001.9,775.5 2002.7,778.2 2003.5,785.9 2004.3,791.0 2005.1,788.5 2005.9,784.6 2006.7,789.3 2007.5,782.2 2008.3,786.5 2009.1,793.4 2009.8,790.4 2010.6,791.1 2011.4,778.4 2012.2,781.3 2013.0,772.1 2013.8,784.3 2014.6,774.2 2015.4,767.1 2016.2,771.8 2017.0,775.9 2017.8,761.4 2018.6,762.6 2019.4,778.0 2020.2,771.1 2021.0,769.4 2021.8,757.9 2022.6,779.2 2023.4,774.8 2024.2,771.8 2025.0,758.2 2025.7,769.6 2026.5,773.0 2027.3,761.6 2028.1,761.5 2028.9,759.1 2029.7,766.4 2030.5,759.4 2031.3,758.1 2032.1,748.0 2032.9,765.9 2033.7,767.2 2034.5,772.7 2035.3,765.9 2036.1,771.0 2036.9,750.9 2037.7,755.3 2038.5,759.2 2039.5,737.5 2040.1,772.9 2040.9,744.9 2041.6,752.3 2042.4,756.2 2043.2,754.4 2044.0,771.7 2044.8,760.8 2045.6,777.4 2046.4,776.4 2047.2,772.0 2048.0,783.8 2048.8,786.7 2049.6,775.2 2050.4,780.8 2051.2,777.5 2052.0,778.4 2052.8,768.7 2053.6,766.5 2054.4,778.5 2055.2,767.8 2056.0,781.0 2056.8,779.5 2057.5,767.7 2058.3,775.0 2059.1,772.1 2059.9,769.8 2060.7,781.4 2061.5,770.9 2062.3,772.5 2063.1,753.7 2063.9,775.4 2064.7,756.0 2065.5,765.6 2066.3,783.6 2067.1,783.4 2067.9,764.8 2068.7,756.3 2069.5,771.8 2070.3,763.9 2071.1,770.7 2071.9,754.4 2072.7,777.7 2073.4,782.2 2074.2,751.8 2075.0,758.4 2075.8,758.8 2076.6,774.6 2077.4,770.8 2078.2,768.5 2079.0,764.5 2079.8,761.3 2080.6,774.8 2081.4,754.9 2082.2,751.7 2083.0,754.1 2084.0,742.5 2084.6,760.4 2085.4,754.2 2086.2,773.2 2087.0,760.4 2087.8,759.5 2088.6,764.1 2089.3,773.0 2090.1,788.8 2090.9,772.2 2091.7,773.6 2092.5,768.9 2093.3,768.2 2094.1,789.4 2094.9,781.1 2095.7,780.3 2096.5,768.5 2097.3,764.9 2098.1,777.5 2098.9,772.1 2099.7,769.8 2100.5,782.0 2101.3,763.1 2102.1,767.3 2102.9,781.4 2103.7,772.4 2104.5,779.0 2105.2,764.1 2106.0,778.2 2106.8,764.4 2107.6,783.1 2108.4,777.2 2109.2,773.7 2110.0,782.6 2110.8,771.5 2111.6,762.1 2112.4,780.6 2113.2,769.7 2114.0,776.8 2114.8,766.9 2115.6,775.1 2116.4,757.1 2117.2,753.2 2118.0,751.9 2118.8,770.2 2119.6,748.7 2120.4,748.9 2121.1,752.0 2121.9,765.9 2122.7,767.6 2123.5,757.2 2124.3,770.6 2125.1,766.7 2125.9,774.1 2126.7,771.9 2127.5,758.5 2128.3,765.8 2129.1,762.9 2129.9,768.0 2130.7,765.9 2131.5,764.4 2132.3,769.8 2133.1,764.5 2133.9,769.7 2134.7,764.2 2135.5,762.7 2136.3,770.8 2137.0,770.9 2137.8,772.9 2138.6,768.3 2139.4,762.0 2140.2,764.9 2141.0,764.6 2141.8,750.9 2142.6,755.4 2143.4,773.5 2144.2,762.8 2145.0,750.8 2145.8,763.3 2146.6,766.3 2147.4,757.3 2148.2,778.1 2149.0,776.6 2149.8,775.4 2150.6,768.7 2151.4,775.0 2152.2,779.0 2152.9,777.1 2153.7,768.7 2154.5,776.9 2155.3,777.1 2156.1,778.6 2156.9,767.4 2157.7,778.7 2158.5,776.7 2159.3,778.9 2160.1,778.8 2160.9,764.7 2161.7,784.9 2162.5,784.1 2163.3,766.0 2164.1,777.1 2164.9,770.6 2165.7,774.3 2166.5,787.4 2167.3,783.4 2168.1,792.4 2168.8,779.8 2169.6,769.1 2170.4,780.4 2171.2,763.3 2172.0,793.6 2172.8,782.2 2173.6,784.1 2174.4,781.6 2175.2,772.5 2176.0,779.4 2176.8,773.4 2177.6,776.1 2178.4,784.1 2179.2,769.9 2180.0,795.9 2180.8,771.4 2181.6,789.5 2182.4,775.7 2183.2,769.9 2184.0,784.9 2184.7,782.7 2185.5,778.9 2186.3,780.2 2187.1,775.0 2187.9,783.9 2188.7,775.9 2189.5,780.0 2190.3,788.8 2191.1,768.6 2191.9,774.6 2192.7,773.6 2193.5,772.6 2194.3,768.2 2195.1,776.3 2195.9,779.3 2196.7,777.1 2197.5,766.3 2198.3,782.3 2199.1,782.2 2199.9,777.6 2200.6,770.1 2201.4,770.8 2202.2,787.9 2203.0,787.8 2203.8,779.4 2204.6,769.3 2205.4,784.6 2206.2,776.6 2207.0,787.2 2207.8,770.6 2208.6,778.1 2209.4,772.8 2210.2,779.9 2211.0,769.1 2211.8,780.8 2212.6,770.5 2213.4,766.6 2214.2,778.2 2215.0,775.6 2215.8,760.3 2216.5,773.5 2217.3,774.7 2218.1,775.5 2218.9,787.9 2219.7,768.5 2220.5,773.9 2221.3,759.7 2222.1,761.3 2222.9,769.1 2223.7,773.1 2224.5,772.5 2225.3,780.2 2226.1,781.1 2226.9,783.8 2227.7,773.0 2228.5,779.2 2229.3,767.8 2230.1,778.1 2230.9,779.4 2231.7,769.9 2232.4,758.5 2233.2,768.4 2234.0,791.6 2234.8,774.0 2235.6,768.7 2236.4,776.3 2237.2,786.4 2238.0,778.8 2238.8,773.6 2239.6,763.4 2240.4,773.0 2241.2,764.7 2242.0,779.5 2242.8,790.3 2243.6,786.1 2244.4,771.1 2245.2,767.8 2246.0,764.4 2246.8,780.8 2247.6,782.0 2248.3,784.0 2249.1,780.2 2249.9,767.2 2250.7,763.5 2251.5,786.7 2252.3,770.3 2253.1,791.1 2253.9,763.5 2254.7,768.0 2255.5,769.3 2256.3,779.2 2257.1,782.4 2257.9,772.4 2258.7,781.7 2259.5,766.3 2260.3,772.7 2261.1,767.0 2261.9,772.2 2262.7,771.5 2263.5,779.0 2264.2,789.7 2265.0,765.6 2265.8,774.8 2266.6,781.7 2267.4,776.8 2268.2,787.2 2269.0,768.3 2269.8,782.1 2270.6,770.1 2271.4,782.3 2272.2,777.3 2273.0,777.8 2273.8,771.5 2274.6,763.7 2275.4,767.7 2276.2,781.2 2277.0,774.2 2277.8,781.5 2278.6,766.8 2279.4,780.9 2280.1,783.6 2280.9,765.2 2281.7,778.9 2282.5,788.2 2283.3,771.7 2284.1,783.7 2284.9,777.3 2285.7,782.8 2286.5,774.7 2287.3,772.3 2288.1,774.7 2288.9,775.2 2289.7,773.9 2290.5,772.3 2291.3,784.6 2292.1,774.4 2292.9,770.8 2293.7,772.5 2294.5,781.1 2295.3,768.8"/>
<polyline class="c" stroke="#00ff00" stroke-width="1.3" stroke-opacity="1" points="109.0,105.4 109.8,80.5 110.6,73.7 111.4,41.5 112.2,66.6 113.0,65.4 113.8,72.1 114.6,60.1 115.4,74.3 116.2,64.6 117.0,44.7 117.5,134.0 118.5,98.8 119.3,117.6 120.1,79.1 120.9,68.5 121.7,65.7 122.5,43.2 123.3,102.2 124.1,56.3 124.9,56.3 125.7,79.2 126.5,116.1 127.3,92.0 128.1,68.9 128.9,77.5 129.7,105.6 130.5,92.8 131.3,83.7 132.1,95.8 132.9,115.4 133.6,133.3 134.4,82.6 135.2,95.1 136.0,93.0 136.8,78.4 137.6,92.4 138.4,95.3 139.2,133.5 140.0,109.6 140.8,85.8 141.6,127.6 142.4,106.9 143.2,78.8 144.0,102.7 145.0,67.0 145.6,97.5 146.4,119.8 147.2,80.9 148.0,114.8 148.8,184.0 149.5,144.0 150.3,151.1 151.1,152.4 151.9,162.0 152.7,102.4 153.5,148.9 154.3,93.1 155.1,117.9 155.9,96.0 156.7,156.3 157.5,163.0 158.3,130.8 159.1,170.3 159.9,122.6 160.7,140.3 161.5,141.1 162.3,117.8 163.1,148.3 163.9,172.5 164.7,122.2 165.4,160.4 166.2,141.8 167.0,177.8 167.8,157.6 168.6,163.5 169.4,165.2 170.2,159.9 171.0,129.0 171.8,188.4 172.6,133.3 173.4,169.5 174.2,179.9 175.0,150.2 175.8,173.7 176.6,198.2 177.4,173.0 178.2,154.7 179.0,138.7 179.8,154.9 180.6,164.4 181.3,166.9 182.1,157.5 182.9,188.6 183.7,167.6 184.5,178.9 185.3,197.5 186.1,163.0 186.9,176.3 187.7,221.9 188.5,204.8 189.3,154.8 190.1,183.8 190.9,199.6 191.7,216.3 192.5,191.0 193.3,175.1 194.1,170.7 194.9,204.9 195.7,197.4 196.5,177.5 197.2,186.2 198.0,181.1 198.8,210.3 199.6,175.5 200.4,205.6 201.2,215.4 202.0,206.9 202.8,174.2 203.6,229.8 204.4,179.4 205.2,207.9 206.0,178.8 206.8,156.9 207.6,204.7 208.4,206.9 209.2,198.3 210.0,207.9 210.8,184.9 211.6,183.2 212.4,198.3 213.1,245.8 213.9,225.0 214.7,190.8 215.5,219.6 216.3,193.0 217.1,194.0 217.9,229.3 218.7,193.2 219.5,164.1 220.3,184.1 221.0,249.0 221.9,212.2 222.7,241.4 223.5,191.2 224.3,228.5 225.1,220.9 225.9,206.8 226.7,231.1 227.5,222.8 228.3,191.1 229.0,236.4 229.8,184.2 230.6,213.5 231.4,212.6 232.2,222.1 233.0,198.0 233.8,213.1 234.6,211.4 235.4,235.0 236.2,199.6 237.0,217.6 237.8,211.8 238.6,192.8 239.4,249.4 240.2,217.8 241.0,192.5 241.8,246.4 242.6,201.9 243.4,228.5 244.2,237.7 244.9,211.0 245.7,215.0 246.5,212.9 247.3,219.8 248.1,204.5 248.9,201.3 249.7,217.5 250.5,238.2 251.3,229.9 252.1,248.1 252.9,229.4 253.8,180.0 254.5,212.3 255.3,188.1 256.1,194.8 256.9,194.5 257.7,218.6 258.5,226.1 259.3,204.0 260.1,207.2 260.8,183.5 261.6,211.9 262.4,219.8 263.2,224.2 264.0,200.5 264.8,249.1 265.6,240.9 266.4,216.0 267.2,208.1 268.0,212.9 268.8,223.0 269.6,220.4 270.4,231.1 271.2,237.5 272.0,250.0 272.8,246.1 273.6,221.6 274.4,231.9 275.2,216.9 276.0,213.3 276.7,256.9 277.5,216.4 278.3,256.7 279.1,219.1 279.9,230.6 280.7,246.1 281.5,226.9 282.3,233.9 283.1,223.2 283.9,219.8 284.7,226.0 285.5,218.7 286.2,180.0 287.0,152.5 287.8,190.0 288.7,208.1 289.5,235.9 290.3,245.6 291.1,233.8 291.9,255.5 292.6,249.7 293.4,237.5 294.2,248.2 295.0,265.3 295.8,246.5 296.6,247.3 297.4,237.3 298.2,244.8 299.0,225.1 299.8,239.4 300.6,264.3 301.4,255.9 302.2,249.3 303.0,255.5 303.8,263.1 304.6,247.3 305.4,263.1 306.2,254.3 307.0,240.0 307.8,264.1 308.5,210.0 309.3,227.8 310.1,242.5 310.9,222.0 311.7,235.9 312.5,227.4 313.3,227.4 314.1,272.3 314.9,253.3 315.7,240.2 316.5,268.2 317.5,280.0 318.1,260.2 318.9,249.3 319.7,275.4 320.5,212.9 321.3,257.3 322.1,243.9 322.9,218.0 323.7,261.8 324.4,237.2 325.2,271.3 326.0,249.5 326.8,252.6 327.6,240.8 328.4,255.9 329.2,218.1 330.0,240.6 331.0,209.0 331.6,244.8 332.4,239.3 333.2,251.8 334.0,226.2 334.8,271.8 335.6,272.7 336.4,240.0 337.2,244.4 338.0,250.9 338.8,270.0 339.6,278.1 340.3,226.0 341.1,238.0 341.9,230.4 342.7,230.3 343.5,221.1 344.3,260.3 345.1,231.8 345.9,284.0 346.7,273.2 347.5,236.1 348.3,236.5 349.1,244.9 349.9,284.1 350.7,240.5 351.5,228.0 352.3,255.6 353.1,263.4 353.9,243.4 354.7,286.1 355.5,259.7 356.2,263.3 357.0,238.8 357.8,253.7 358.6,251.4 359.4,224.2 360.2,259.4 361.0,224.5 361.8,253.7 362.6,227.9 363.4,284.0 364.2,260.6 365.0,270.4 365.8,271.8 366.6,232.6 367.4,227.8 368.2,251.7 369.0,274.1 369.8,261.1 370.6,274.3 371.4,278.0 372.1,237.3 372.9,269.2 373.7,293.6 374.5,256.4 375.3,238.6 376.1,263.8 376.9,260.2 377.7,276.1 378.5,253.0 379.3,270.6 380.1,239.0 380.9,284.4 381.7,297.9 382.5,292.5 383.3,239.3 384.1,273.8 384.9,235.6 385.7,272.6 386.5,265.5 387.3,246.6 388.0,273.1 388.8,268.7 389.6,284.9 390.4,268.1 391.2,270.1 392.0,230.9 392.8,240.7 393.6,254.8 394.4,270.8 395.2,264.4 396.0,295.3 396.8,246.7 397.6,259.6 398.4,269.6 399.2,260.0 400.0,274.2 400.8,253.7 401.6,291.6 402.4,259.0 403.2,285.6 403.9,264.7 404.7,292.2 405.5,240.8 406.3,275.0 407.1,258.6 407.9,270.4 408.7,287.2 409.5,247.5 410.3,244.8 411.1,250.8 411.9,272.2 412.7,240.8 413.5,270.2 414.3,247.7 415.1,250.5 415.9,263.6 416.7,276.2 417.5,260.1 418.3,262.6 419.1,270.1 419.8,266.6 420.6,244.9 421.4,264.4 422.2,272.6 423.0,288.6 423.8,297.0 424.6,281.5 425.4,272.1 426.2,255.5 427.0,271.8 427.8,282.2 428.6,289.5 429.4,255.8 430.2,273.0 431.0,281.7 431.8,294.4 432.6,272.6 433.4,260.0 434.2,257.5 435.0,262.6 435.7,257.8 436.5,281.2 437.3,285.2 438.1,279.7 438.9,287.3 439.7,260.6 440.5,274.2 441.3,261.6 442.1,268.6 442.9,288.2 443.7,267.3 444.5,240.2 445.3,263.3 446.1,255.5 446.9,241.8 447.7,253.8 448.5,283.5 449.3,295.1 450.1,258.5 450.9,283.9 451.6,286.9 452.4,246.4 453.2,265.6 454.0,265.3 454.8,269.0 455.6,238.0 456.4,259.6 457.2,284.1 458.0,287.7 458.8,294.4 459.6,259.5 460.4,294.5 461.2,277.3 462.0,241.6 462.8,279.4 463.6,259.9 464.4,275.6 465.2,265.0 466.0,288.5 466.8,272.0 467.5,262.9 468.3,285.3 469.1,273.1 469.9,261.5 470.7,291.6 471.5,262.0 472.3,258.0 473.1,259.8 473.9,243.4 474.7,259.6 475.5,298.8 476.3,253.1 477.1,269.4 477.9,249.2 478.7,258.1 479.5,296.6 480.3,285.3 481.1,257.8 481.9,269.0 482.7,253.8 483.4,254.5 484.2,252.1 485.0,252.4 485.8,274.8 486.6,279.8 487.4,277.9 488.2,266.0 489.0,244.6 489.8,268.0 490.6,252.7 491.4,285.1 492.2,279.2 493.0,282.6 493.8,263.1 494.6,240.2 495.4,285.9 496.2,290.4 497.0,242.8 497.8,270.9 498.6,289.0 499.3,249.3 500.1,296.2 500.9,261.3 501.7,248.4 502.5,290.6 503.3,271.6 504.1,254.9 504.9,281.4 505.7,237.0 506.5,294.6 507.3,251.0 508.1,270.4 508.9,258.0 509.7,273.0 510.5,281.2 511.3,249.7 512.1,279.4 512.9,259.3 513.7,251.8 514.5,260.5 515.2,245.7 516.0,249.5 516.8,282.5 517.6,261.7 518.4,286.1 519.2,272.7 520.0,245.1 520.8,233.6 521.6,251.6 522.4,269.4 523.2,264.7 524.0,249.0 524.8,283.3 525.6,234.1 526.4,241.3 527.2,266.8 528.0,294.6 528.8,272.1 529.6,246.2 530.4,275.3 531.1,276.9 531.9,281.4 532.7,257.1 533.5,250.1 534.3,266.6 535.1,271.9 535.9,292.9 536.7,293.6 537.5,251.5 538.3,255.3 539.1,263.4 539.9,260.1 540.7,272.9 541.5,272.8 542.3,268.7 543.1,287.3 543.9,261.3 544.7,245.9 545.5,237.1 546.3,246.0 547.0,245.5 547.8,235.3 548.6,273.4 549.4,265.1 550.2,254.7 551.0,246.8 551.8,235.3 552.6,245.7 553.4,286.2 554.2,246.7 555.0,261.7 555.8,270.8 556.6,261.1 557.4,254.1 558.2,270.3 559.0,242.4 559.8,266.8 560.6,279.4 561.0,217.5 562.2,247.7 562.9,261.4 563.7,273.3 564.5,278.2 565.3,269.7 566.1,252.7 566.9,247.7 567.7,265.4 568.5,267.8 569.3,249.6 570.1,264.3 570.9,267.9 571.7,277.0 572.5,251.6 573.3,271.2 574.1,248.7 574.9,258.1 575.7,262.4 576.5,284.2 577.3,286.1 578.1,266.2 578.8,269.6 579.6,277.1 580.4,240.6 581.2,273.3 582.0,241.0 582.8,287.2 583.6,284.3 584.4,268.4 585.2,245.6 586.0,288.1 586.8,263.6 587.6,260.6 588.4,269.0 589.2,227.4 590.0,265.9 590.8,276.6 591.6,263.9 592.4,260.0 593.2,238.2 594.0,269.5 594.7,260.6 595.5,256.6 596.3,244.9 597.1,273.4 597.9,281.3 598.7,263.7 599.5,274.1 600.3,282.9 601.1,288.3 601.9,260.0 602.7,250.8 603.5,246.5 604.3,255.4 605.1,266.6 605.9,274.5 606.7,246.6 607.5,258.4 608.3,235.4 609.1,280.9 609.9,248.1 610.6,263.0 611.4,242.4 612.2,250.8 613.0,243.8 613.8,287.2 614.6,263.5 615.4,254.1 616.2,240.4 617.0,246.5 617.8,267.0 618.6,285.1 619.4,232.8 620.2,241.3 621.0,253.4 621.8,245.6 622.6,228.8 623.4,255.1 624.2,266.1 625.0,228.5 625.8,256.0 626.5,267.0 627.3,266.4 628.1,244.0 628.9,274.9 629.7,257.6 630.5,236.2 631.3,262.8 632.1,230.4 632.9,260.4 633.7,227.4 634.5,258.1 635.3,236.9 636.1,262.8 636.9,256.6 637.7,251.9 638.5,245.8 639.3,261.7 640.1,218.7 640.9,251.3 641.7,251.0 642.4,253.4 643.2,257.7 644.0,270.8 644.8,246.6 645.6,257.8 646.4,247.6 647.2,270.4 648.0,220.1 648.8,271.9 649.6,236.2 650.4,222.0 651.2,231.1 652.0,245.1 652.8,250.9 653.6,247.4 654.4,260.1 655.2,247.5 656.0,246.9 656.8,223.9 657.6,254.1 658.3,261.0 659.1,240.1 659.9,222.2 660.7,225.9 661.5,267.0 662.3,234.7 663.1,233.1 663.9,230.2 664.7,250.4 665.5,232.0 666.3,227.4 667.1,217.8 667.9,236.7 668.7,251.7 669.5,235.2 670.3,249.4 671.1,239.1 671.9,238.4 672.7,238.7 673.5,236.5 674.2,251.3 675.0,243.2 675.8,226.7 676.6,237.5 677.4,234.1 678.2,242.9 679.0,237.8 679.8,241.3 680.6,209.1 681.4,239.9 682.2,255.5 683.0,208.7 683.8,259.7 684.6,236.0 685.4,226.2 686.2,199.2 687.0,248.2 687.8,209.5 688.6,217.1 689.4,236.1 690.1,205.8 690.9,205.8 691.7,202.0 692.5,221.3 693.3,234.2 694.1,230.3 694.9,230.0 695.7,215.4 696.5,224.4 697.3,208.5 698.1,252.5 698.9,225.0 699.7,190.4 700.5,201.2 701.3,250.7 702.1,195.7 702.9,212.8 703.7,228.1 704.5,200.7 705.3,239.9 706.0,250.2 706.8,205.8 707.6,240.9 708.4,204.8 709.2,203.0 710.0,225.4 710.8,225.4 711.6,210.7 712.4,236.8 713.2,195.5 714.0,206.9 714.8,203.2 715.6,237.1 716.4,238.4 717.2,236.4 718.0,200.4 718.8,227.4 719.6,234.0 720.4,195.2 721.2,210.6 721.9,239.1 722.7,240.7 723.5,232.6 724.3,238.7 725.1,234.9 725.9,231.9 726.7,227.3 727.5,212.5 728.3,225.4 729.1,222.6 729.9,264.5 730.7,237.0 731.5,231.8 732.3,227.7 733.1,230.4 733.9,227.5 734.7,244.7 735.5,232.9 736.3,250.5 737.1,219.1 737.5,270.0 738.6,251.6 739.4,209.0 740.2,236.1 741.0,237.3 741.8,224.8 742.6,221.2 743.4,197.2 744.2,253.1 745.0,210.6 745.8,204.0 746.6,240.9 747.4,195.2 748.2,245.4 749.0,234.4 749.8,236.9 750.6,221.8 751.4,201.1 752.2,192.6 753.0,251.6 753.7,214.3 754.5,213.2 755.3,254.4 756.1,210.6 756.9,218.5 757.7,218.7 758.5,221.0 759.3,201.6 760.1,212.2 760.9,254.8 761.7,243.5 762.5,186.3 763.3,185.8 764.1,234.6 764.9,223.4 766.0,271.0 766.5,252.5 767.3,183.2 768.1,255.7 768.9,227.6 769.6,237.4 770.4,228.9 771.2,242.7 772.0,214.4 772.8,206.4 773.6,237.4 774.4,221.7 775.2,188.2 776.0,247.2 776.8,242.9 777.6,247.3 778.4,215.7 779.0,171.0 780.0,204.5 780.8,191.0 781.6,214.4 782.4,216.9 783.2,197.9 784.0,250.7 784.8,196.0 785.5,199.2 786.3,198.3 787.1,244.6 787.9,208.5 788.7,207.2 789.5,194.0 790.3,197.1 791.1,184.2 791.9,241.1 792.7,231.5 793.5,241.4 794.3,200.5 795.1,258.4 795.9,192.5 796.7,175.6 797.5,209.5 798.3,219.9 799.1,234.9 799.9,189.8 800.7,229.0 801.4,253.8 802.2,191.9 803.0,193.8 804.0,170.0 804.6,215.3 805.4,228.5 806.2,225.4 807.0,226.0 807.8,238.1 808.6,209.1 809.4,226.6 810.2,196.8 811.0,199.9 811.8,210.3 812.6,188.2 813.4,216.7 814.2,232.7 815.0,212.8 815.8,189.9 816.6,189.7 817.3,231.7 818.1,188.9 818.9,206.7 819.7,199.9 820.5,206.5 821.3,228.5 822.1,194.9 822.9,176.4 823.7,239.1 824.5,212.8 825.3,224.9 826.1,208.4 826.9,227.8 827.7,240.3 828.5,243.6 829.3,203.5 830.1,201.7 830.9,220.7 831.7,216.1 832.5,225.5 833.2,192.5 834.0,168.1 834.8,222.8 835.6,231.6 836.4,228.0 837.2,254.7 838.0,233.8 838.8,200.7 839.6,237.7 840.4,208.9 841.2,245.6 842.0,218.0 842.8,224.1 843.6,218.1 844.4,213.4 845.2,187.3 846.0,214.0 846.8,181.0 847.6,227.2 848.4,241.6 849.1,260.4 850.0,166.0 850.7,194.7 851.5,174.1 852.3,259.5 853.1,180.5 853.9,239.4 854.7,186.8 855.5,216.7 856.3,234.0 857.1,226.2 857.9,218.8 858.7,203.7 859.5,203.3 860.3,240.0 861.1,229.5 861.9,219.2 862.7,225.9 863.5,207.1 864.3,239.7 865.0,243.6 865.8,210.3 866.6,224.8 867.4,240.3 868.2,212.5 869.0,250.5 869.8,248.5 870.6,218.3 871.4,239.8 872.2,251.5 873.0,201.0 873.8,233.9 874.6,220.2 875.4,218.8 876.2,235.8 877.0,213.8 877.8,196.3 878.6,195.5 879.4,222.2 880.2,234.9 880.9,222.1 881.7,219.5 882.5,221.9 883.3,249.3 884.1,233.7 884.9,206.5 885.7,216.2 886.5,249.1 887.3,209.5 888.1,213.5 888.9,221.9 889.7,208.2 890.5,244.0 891.3,201.9 892.1,258.1 892.9,212.2 893.7,192.3 894.5,230.5 895.3,186.0 896.0,181.0 896.8,244.2 897.6,211.0 898.4,216.4 899.2,250.4 900.0,211.1 900.8,229.0 901.6,237.7 902.4,267.5 903.2,219.2 904.0,232.7 904.8,258.6 905.6,196.0 906.4,227.8 907.5,271.0 908.0,199.1 908.8,270.1 909.6,239.7 910.4,266.0 911.2,230.5 912.0,246.2 912.7,226.9 913.5,224.7 914.3,233.7 915.1,237.3 915.9,262.6 916.7,231.1 917.5,241.1 918.3,229.8 919.1,236.4 919.9,211.5 920.7,251.6 921.5,224.1 922.3,233.1 923.1,228.3 923.9,248.4 924.7,240.0 925.5,230.3 926.3,232.6 927.1,235.2 927.9,242.8 928.6,237.5 929.4,253.4 930.2,260.7 931.0,239.0 931.8,195.5 932.6,262.6 933.4,263.1 934.0,181.0 935.0,215.6 935.8,190.2 936.6,245.3 937.4,203.0 938.2,267.8 939.0,202.9 939.8,231.9 940.6,247.5 941.4,222.9 942.2,214.7 943.0,240.7 943.8,223.6 944.5,229.1 945.3,237.4 946.1,226.5 946.9,235.3 947.7,259.7 948.5,233.5 949.3,247.1 950.1,226.8 950.9,265.2 951.7,215.7 952.5,284.0 953.3,207.9 954.1,224.2 954.9,208.6 955.7,266.4 956.5,249.0 957.3,212.8 958.1,228.4 958.9,270.0 959.7,237.6 960.4,250.3 961.2,203.1 962.0,202.1 962.8,247.1 963.6,270.1 964.4,220.2 965.2,244.3 966.0,211.0 966.8,257.0 967.6,218.8 968.4,218.7 969.2,198.2 970.0,219.0 971.0,189.0 971.6,258.0 972.4,204.6 973.2,250.7 974.0,224.4 974.8,227.0 975.6,215.5 976.3,212.4 977.1,215.6 977.9,270.4 978.7,219.3 979.5,235.2 980.3,264.7 981.1,218.3 981.9,255.5 982.7,240.2 983.5,253.1 984.3,265.2 985.1,248.7 985.9,248.2 986.7,263.4 987.5,261.7 988.3,238.8 989.1,246.9 989.9,226.9 990.7,269.9 991.5,226.9 992.2,249.5 993.0,274.3 993.8,258.3 994.6,238.7 995.4,230.4 996.2,231.6 997.0,258.3 997.8,248.0 998.6,241.9 999.4,271.7 1000.2,227.8 1001.0,234.2 1001.8,236.7 1002.6,247.7 1003.4,250.0 1004.2,240.5 1005.0,258.8 1005.8,256.1 1006.6,242.2 1007.4,220.4 1008.1,262.5 1008.9,233.2 1009.7,238.9 1010.5,248.2 1011.3,230.0 1012.1,237.8 1012.9,253.0 1013.7,246.1 1014.5,257.6 1015.3,237.3 1016.1,247.9 1016.9,233.2 1017.7,246.4 1018.5,256.2 1019.3,246.2 1020.1,224.2 1020.9,246.1 1021.7,251.8 1022.5,269.6 1023.3,247.4 1024.0,240.0 1024.8,225.3 1025.6,280.1 1026.4,229.1 1027.2,225.6 1028.0,244.3 1028.8,217.7 1029.6,267.7 1030.4,251.1 1031.2,257.1 1032.0,230.1 1032.8,239.3 1033.6,264.8 1034.4,266.0 1035.2,281.0 1036.0,270.1 1036.8,222.7 1037.6,252.7 1038.4,245.2 1039.2,271.1 1039.9,250.8 1040.7,261.2 1041.5,247.7 1042.3,263.9 1043.1,278.7 1043.9,244.2 1044.7,228.5 1045.5,238.3 1046.3,281.7 1047.1,260.1 1047.9,252.1 1048.7,241.8 1049.5,275.4 1050.3,263.5 1051.1,257.6 1051.9,251.2 1052.7,258.2 1053.5,256.2 1054.3,271.7 1055.1,284.1 1055.8,237.1 1056.6,240.0 1057.4,263.4 1058.2,267.1 1059.0,240.2 1059.8,256.6 1060.6,261.0 1061.4,261.0 1062.2,261.3 1063.0,268.5 1063.8,285.8 1064.6,283.9 1065.4,282.0 1066.2,277.1 1067.0,260.5 1067.8,265.0 1068.6,285.6 1069.4,276.0 1070.2,288.0 1071.0,279.2 1071.7,276.0 1072.5,282.6 1073.3,250.1 1074.1,273.1 1074.9,266.4 1075.7,289.7 1076.5,265.6 1077.3,280.2 1078.1,269.9 1078.9,284.2 1079.7,288.1 1080.5,274.0 1081.3,279.0 1082.1,280.2 1082.9,289.3 1083.7,273.1 1084.5,278.7 1085.3,272.1 1086.1,264.7 1086.9,281.2 1087.6,284.8 1088.4,267.6 1089.2,301.1 1090.0,268.9 1090.8,289.7 1091.6,284.7 1092.4,258.3 1093.2,279.4 1094.0,258.5 1094.8,278.4 1095.6,289.0 1096.4,303.3 1097.2,290.6 1098.0,259.1 1098.8,275.1 1099.6,300.6 1100.4,282.4 1101.2,303.7 1102.0,269.8 1102.8,272.1 1103.5,261.0 1104.3,274.5 1105.1,297.6 1105.9,266.7 1106.7,291.7 1107.5,286.4 1108.3,291.1 1109.1,276.1 1109.9,280.2 1110.7,304.7 1111.5,261.7 1112.3,290.9 1113.1,302.0 1113.9,286.6 1114.7,304.2 1115.5,256.7 1116.3,275.2 1117.1,262.2 1117.9,273.4 1118.7,278.0 1119.4,286.9 1120.2,266.5 1121.0,292.8 1121.8,255.7 1122.6,294.2 1123.4,275.5 1124.2,255.3 1125.0,255.2 1125.8,255.1 1126.6,263.5 1127.4,280.9 1128.2,300.0 1129.0,291.5 1129.8,257.6 1130.6,254.3 1131.4,273.9 1132.2,255.6 1133.0,275.8 1133.8,267.4 1134.6,307.7 1135.3,253.5 1136.1,283.7 1136.9,308.0 1137.7,271.6 1138.5,265.3 1139.3,306.8 1140.1,253.1 1140.9,253.1 1141.7,257.8 1142.5,285.7 1143.3,292.3 1144.1,277.2 1144.9,309.9 1145.7,276.5 1146.5,280.3 1147.3,275.5 1148.1,302.1 1148.9,281.8 1149.7,275.4 1150.5,311.2 1151.2,304.9 1152.0,300.6 1152.8,262.5 1153.6,266.3 1154.4,280.8 1155.2,281.0 1156.0,278.6 1156.8,282.5 1157.6,297.6 1158.4,270.2 1159.2,291.7 1160.0,281.4 1160.8,280.4 1161.6,284.2 1162.4,301.7 1163.2,294.4 1164.0,277.2 1164.8,296.1 1165.6,293.3 1166.4,298.2 1167.1,287.5 1167.9,308.5 1168.7,298.8 1169.5,274.2 1170.3,272.3 1171.1,270.6 1171.9,300.2 1172.7,282.9 1173.5,288.7 1174.3,293.4 1175.1,314.5 1175.9,321.4 1176.7,293.6 1177.5,321.8 1178.3,304.6 1179.1,315.1 1179.9,292.0 1180.7,277.3 1181.5,304.5 1182.3,317.2 1183.0,273.2 1183.8,296.7 1184.6,301.3 1185.4,307.3 1186.2,281.7 1187.0,290.1 1187.8,312.9 1188.6,323.9 1189.4,300.8 1190.2,314.2 1191.0,302.2 1191.8,306.3 1192.6,294.2 1193.4,296.7 1194.2,291.7 1195.0,301.8 1195.8,316.5 1196.6,303.1 1197.4,309.8 1198.2,291.0 1198.9,310.5 1199.7,276.7 1200.5,279.7 1201.3,295.1 1202.1,276.7 1202.9,307.6 1203.7,302.4 1204.5,286.6 1205.3,300.5 1206.1,278.2 1206.9,286.5 1207.7,293.5 1208.5,276.8 1209.3,312.7 1210.1,289.5 1210.9,311.9 1211.7,296.2 1212.5,302.1 1213.3,285.9 1214.1,293.8 1214.8,292.2 1215.6,300.7 1216.4,315.4 1217.2,290.3 1218.0,295.5 1218.8,302.3 1219.6,308.8 1220.4,296.4 1221.2,293.1 1222.0,290.6 1222.8,298.5 1223.6,301.8 1224.4,289.9 1225.2,295.1 1226.0,309.4 1226.8,299.3 1227.6,292.3 1228.4,309.7 1229.2,310.1 1230.0,309.0 1230.7,310.1 1231.5,295.9 1232.3,304.4 1233.1,306.2 1233.9,303.9 1234.7,279.7 1235.5,302.5 1236.3,307.9 1237.1,310.2 1237.9,299.3 1238.7,304.3 1239.5,280.7 1240.3,282.9 1241.1,281.0 1241.9,301.5 1242.7,328.5 1243.5,328.9 1244.3,289.1 1245.1,315.0 1245.9,323.9 1246.6,301.5 1247.4,282.4 1248.2,326.3 1249.0,301.0 1249.8,300.6 1250.6,329.2 1251.4,312.8 1252.2,318.0 1253.0,328.4 1253.8,304.3 1254.6,293.1 1255.4,317.1 1256.2,306.5 1257.0,316.4 1257.8,311.8 1258.6,296.4 1259.4,306.8 1260.2,302.0 1261.0,303.2 1261.8,305.6 1262.5,310.6 1263.3,308.5 1264.1,288.9 1264.9,313.7 1265.7,286.4 1266.5,325.9 1267.3,294.7 1268.1,303.7 1268.9,321.8 1269.7,301.3 1270.5,287.0 1271.3,284.6 1272.1,307.0 1272.9,308.5 1273.7,313.8 1274.5,306.3 1275.3,296.2 1276.1,308.7 1276.9,321.5 1277.7,291.7 1278.4,323.6 1279.2,296.8 1280.0,319.1 1280.8,323.8 1281.6,314.8 1282.4,306.8 1283.2,312.6 1284.0,320.9 1284.8,280.8 1285.6,309.6 1286.4,298.2 1287.2,294.5 1288.0,305.5 1288.8,306.5 1289.6,310.8 1290.4,296.6 1291.2,319.6 1292.0,282.4 1292.8,291.9 1293.6,288.7 1294.3,306.4 1295.1,298.5 1295.9,312.4 1296.7,295.1 1297.5,322.8 1298.3,315.8 1299.1,299.4 1299.9,284.8 1300.7,291.1 1301.5,286.7 1302.3,323.4 1303.1,317.4 1303.9,291.7 1304.7,329.3 1305.5,305.0 1306.3,288.5 1307.1,323.1 1307.9,326.1 1308.7,310.4 1309.5,299.7 1310.2,326.0 1311.0,305.2 1311.8,311.4 1312.6,317.4 1313.4,315.5 1314.2,306.6 1315.0,299.8 1315.8,320.7 1316.6,292.7 1317.4,315.4 1318.2,314.5 1319.0,317.1 1319.8,306.4 1320.6,312.8 1321.4,319.0 1322.2,297.3 1323.0,309.6 1323.8,312.9 1324.6,293.4 1325.4,296.6 1326.1,325.4 1326.9,318.7 1327.7,297.6 1328.5,314.1 1329.3,310.0 1330.1,321.1 1330.9,317.6 1331.7,284.9 1332.5,300.0 1333.3,318.9 1334.1,321.5 1334.9,306.4 1335.7,303.3 1336.5,304.4 1337.3,296.9 1338.1,300.7 1338.9,290.5 1339.7,309.6 1340.5,307.5 1341.0,280.0 1342.0,288.5 1342.8,289.4 1343.6,292.5 1344.4,308.8 1345.2,298.9 1346.0,312.2 1346.8,324.7 1347.6,308.4 1348.4,304.8 1349.2,319.7 1350.0,319.7 1350.8,302.1 1351.6,308.2 1352.4,312.5 1353.2,308.5 1354.0,319.5 1354.8,317.0 1355.6,329.6 1356.4,293.1 1357.2,329.0 1357.9,324.7 1358.7,312.8 1359.5,320.0 1360.3,327.5 1361.1,318.8 1361.9,311.6 1362.7,318.7 1363.5,305.6 1364.3,297.2 1365.1,303.0 1365.9,304.3 1366.7,317.5 1367.5,325.8 1368.3,318.2 1369.1,335.0 1369.9,313.4 1370.7,305.5 1371.5,304.3 1372.3,301.7 1373.1,309.9 1373.8,333.3 1374.6,293.3 1375.4,321.6 1376.2,313.5 1377.0,325.4 1377.8,307.0 1378.6,323.6 1379.4,306.4 1380.2,322.1 1381.0,289.8 1381.8,320.0 1382.6,323.4 1383.4,290.9 1384.2,324.8 1385.0,297.3 1385.8,326.6 1386.6,313.0 1387.4,322.5 1388.2,318.2 1389.0,297.2 1389.7,334.0 1390.5,329.5 1391.3,300.2 1392.1,321.0 1392.9,319.7 1393.7,305.2 1394.5,300.8 1395.3,330.2 1396.1,309.3 1396.9,325.5 1397.7,333.6 1398.5,320.4 1399.3,304.0 1400.1,326.4 1400.9,298.6 1401.7,304.3 1402.5,333.1 1403.3,306.0 1404.1,319.1 1404.9,303.3 1405.6,314.0 1406.4,317.6 1407.2,296.5 1408.0,308.3 1408.8,322.7 1409.6,324.9 1410.4,319.1 1411.2,305.2 1412.0,319.7 1412.8,310.0 1413.6,306.8 1414.4,315.2 1415.2,332.4 1416.0,305.0 1416.8,326.5 1417.6,317.6 1418.4,297.9 1419.2,304.2 1420.0,312.5 1420.8,308.9 1421.5,317.3 1422.3,317.6 1423.1,314.5 1423.9,326.0 1424.7,313.8 1425.5,304.9 1426.3,314.6 1427.1,334.2 1427.9,308.2 1429.0,289.0 1429.5,327.8 1430.3,336.3 1431.1,332.8 1431.9,302.5 1432.7,305.7 1433.5,333.7 1434.3,317.8 1435.1,325.7 1435.9,318.8 1436.7,336.5 1437.4,322.1 1438.2,318.9 1439.0,323.0 1439.8,312.8 1440.6,323.5 1441.4,321.8 1442.2,311.0 1443.0,315.0 1443.8,314.5 1444.6,312.5 1445.4,325.7 1446.2,331.4 1447.0,325.9 1447.8,312.7 1448.6,311.1 1449.4,330.3 1450.2,321.6 1451.0,323.5 1451.8,312.9 1452.6,309.5 1453.3,340.1 1454.1,318.8 1454.9,322.8 1455.7,313.2 1456.5,340.3 1457.3,320.9 1458.1,322.8 1458.9,324.8 1459.7,324.0 1460.5,339.1 1461.3,306.1 1462.1,330.2 1462.9,316.4 1463.7,318.4 1464.5,315.8 1465.3,326.9 1466.1,308.0 1466.9,315.8 1467.7,327.4 1468.5,314.8 1469.2,315.6 1470.0,324.5 1470.8,321.1 1471.6,316.2 1472.4,320.2 1473.2,309.7 1474.0,328.3 1474.8,306.8 1475.6,301.0 1476.4,322.7 1477.2,303.5 1478.0,307.2 1478.8,315.0 1479.6,324.8 1480.4,311.7 1481.2,311.9 1482.0,311.9 1482.8,320.6 1483.6,310.7 1484.4,319.0 1485.1,331.4 1485.9,313.7 1486.7,312.1 1487.5,305.7 1488.3,307.7 1489.1,302.1 1489.9,303.7 1490.7,309.7 1491.5,320.4 1492.3,322.2 1493.1,311.5 1493.9,320.4 1494.7,301.2 1495.5,337.3 1496.3,337.4 1497.1,315.4 1497.9,323.0 1498.7,318.2 1499.5,326.6 1500.3,309.3 1501.0,298.3 1501.8,327.3 1502.6,303.6 1503.4,321.8 1504.2,305.7 1505.0,307.7 1505.8,330.2 1506.6,338.4 1507.4,315.8 1508.2,312.4 1509.0,321.9 1509.8,311.0 1510.6,297.7 1511.4,318.1 1512.2,297.9 1513.0,324.2 1513.8,312.1 1514.6,321.3 1515.4,299.7 1516.2,309.2 1516.9,326.7 1517.7,337.3 1518.5,330.5 1519.3,324.6 1520.1,305.0 1520.9,327.3 1521.7,321.6 1522.5,315.8 1523.3,337.0 1524.1,310.1 1524.9,342.3 1525.7,311.9 1526.5,311.6 1527.3,319.0 1528.1,303.7 1528.9,314.5 1529.7,321.4 1530.5,301.0 1531.3,310.3 1532.1,303.6 1532.8,315.2 1533.6,334.2 1534.4,315.4 1535.2,318.4 1536.0,323.3 1536.8,307.8 1537.6,323.4 1538.4,314.8 1539.2,313.5 1540.0,303.2 1540.8,313.8 1541.6,332.4 1542.4,334.3 1543.2,317.8 1544.0,321.9 1544.8,316.6 1545.6,309.4 1546.4,304.5 1547.2,339.7 1548.0,311.0 1548.7,323.9 1549.5,338.4 1550.3,317.8 1551.1,320.3 1551.9,325.1 1552.7,318.6 1553.5,325.3 1554.3,319.1 1555.1,335.4 1555.9,328.5 1556.7,310.2 1557.5,308.7 1558.3,316.5 1559.1,317.0 1559.9,315.7 1560.7,334.6 1561.5,316.2 1562.3,319.3 1563.1,326.3 1563.9,306.2 1564.6,329.9 1565.4,331.8 1566.2,341.5 1567.0,314.0 1567.8,320.2 1568.6,328.3 1569.4,321.5 1570.2,308.9 1571.0,337.0 1571.8,323.0 1572.6,330.7 1573.4,313.7 1574.2,338.2 1575.0,322.4 1575.8,317.9 1576.6,336.1 1577.0,350.0 1578.2,314.9 1579.0,338.1 1579.8,345.4 1580.5,328.6 1581.3,308.0 1582.1,331.6 1582.9,337.3 1583.7,311.6 1584.5,343.4 1585.3,320.8 1586.1,321.3 1586.9,335.5 1587.7,324.4 1588.5,336.5 1589.3,321.0 1590.1,325.4 1590.9,320.6 1591.7,322.9 1592.5,326.7 1593.3,325.2 1594.1,315.5 1594.9,330.1 1595.7,317.7 1596.4,332.9 1597.2,325.8 1598.0,317.4 1598.8,309.6 1599.6,318.8 1600.4,334.9 1601.2,320.6 1602.0,330.0 1602.8,317.4 1603.6,314.7 1604.4,310.1 1605.2,298.7 1606.0,322.2 1606.8,319.0 1607.6,317.9 1608.4,327.9 1609.2,306.7 1610.0,338.3 1610.8,301.0 1611.6,321.7 1612.3,304.3 1613.1,315.4 1613.9,332.7 1614.7,300.7 1615.5,320.9 1616.3,320.1 1617.1,321.0 1617.9,321.9 1618.7,328.6 1619.5,324.9 1620.3,323.5 1621.1,329.7 1621.9,327.0 1622.7,317.4 1623.5,304.1 1624.3,328.7 1625.1,314.9 1625.9,339.1 1626.7,312.3 1627.5,304.5 1628.2,333.0 1629.0,310.1 1629.8,300.9 1630.6,333.6 1631.4,301.4 1632.2,335.2 1633.0,307.4 1633.8,324.0 1634.6,321.7 1635.4,298.9 1636.2,318.5 1637.0,313.5 1637.8,320.0 1638.6,324.8 1639.4,337.4 1640.2,315.0 1641.0,316.6 1641.8,337.9 1642.6,326.4 1643.4,326.7 1644.1,298.5 1644.9,300.0 1645.7,310.2 1646.5,314.6 1647.3,322.8 1648.1,337.0 1648.9,301.3 1649.7,311.5 1650.5,324.1 1651.3,319.6 1652.1,330.0 1652.9,312.6 1653.7,305.1 1654.5,336.3 1655.3,321.3 1656.1,301.1 1656.9,311.5 1657.7,314.8 1658.5,297.2 1659.3,324.9 1660.0,317.1 1660.8,310.7 1661.6,307.1 1662.4,335.1 1663.2,313.9 1664.0,305.3 1664.8,295.0 1665.6,301.5 1666.4,323.0 1667.2,332.8 1668.0,300.2 1668.8,294.8 1669.6,314.9 1670.4,314.0 1671.2,325.3 1672.0,306.1 1672.8,316.3 1673.6,295.3 1674.4,300.0 1675.2,308.8 1675.9,310.2 1676.7,322.7 1677.5,331.7 1678.3,298.6 1679.1,338.1 1679.9,307.5 1680.7,311.9 1681.5,331.9 1682.3,297.3 1683.1,299.4 1683.9,307.7 1684.7,319.6 1685.5,332.8 1686.3,333.3 1687.1,307.5 1687.9,329.4 1688.7,314.4 1689.5,339.6 1690.3,316.7 1691.1,334.6 1691.8,307.3 1692.6,331.4 1693.4,303.3 1694.2,323.1 1695.0,300.4 1695.8,320.3 1696.6,311.8 1697.4,309.5 1698.2,326.1 1699.0,333.7 1699.8,324.8 1700.6,327.6 1701.4,333.3 1702.0,347.5 1703.0,337.6 1703.8,329.2 1704.6,346.4 1705.4,316.6 1706.2,334.6 1707.0,307.7 1707.7,346.3 1708.5,319.9 1709.3,325.4 1710.1,342.2 1710.9,320.3 1711.7,311.1 1712.5,300.1 1713.3,318.8 1714.1,345.7 1714.9,324.7 1715.7,345.6 1716.5,333.7 1717.3,315.6 1718.1,301.8 1718.9,318.9 1719.7,330.3 1720.5,318.3 1721.3,323.7 1722.1,329.4 1722.9,315.8 1723.6,300.1 1724.4,316.0 1725.2,328.7 1726.0,308.6 1726.8,305.1 1727.6,305.7 1728.4,316.6 1729.2,318.0 1730.0,318.8 1730.8,301.1 1731.6,319.8 1732.4,310.1 1733.2,305.4 1734.0,296.0 1734.8,302.6 1735.6,309.7 1736.4,320.6 1737.2,324.4 1738.0,318.8 1738.8,321.6 1739.5,301.7 1740.3,329.6 1741.1,329.8 1741.9,327.7 1742.7,310.8 1743.5,316.6 1744.3,311.1 1745.1,299.1 1745.9,312.9 1746.7,296.1 1747.5,295.8 1748.3,325.2 1749.1,325.0 1749.9,328.7 1750.7,311.5 1751.5,317.7 1752.3,324.4 1753.1,312.4 1753.9,296.6 1754.7,339.1 1755.4,333.1 1756.2,333.2 1757.0,318.4 1757.8,307.3 1758.6,318.4 1759.4,321.0 1760.2,300.6 1761.0,311.8 1761.8,324.7 1762.6,336.4 1763.4,325.5 1764.2,313.4 1765.0,302.9 1765.8,338.7 1766.6,320.4 1767.4,328.3 1768.2,319.7 1769.0,303.4 1769.8,339.4 1770.6,327.8 1771.3,334.6 1772.1,310.9 1772.9,320.1 1773.7,336.8 1774.5,316.6 1775.3,312.4 1776.1,307.8 1776.9,305.3 1777.7,331.2 1778.5,321.0 1779.3,302.7 1780.1,339.9 1780.9,337.1 1781.7,335.9 1782.5,303.6 1783.3,324.0 1784.1,338.0 1784.9,311.2 1785.7,314.1 1786.5,320.8 1787.2,304.9 1788.0,326.4 1788.8,335.4 1789.6,331.8 1790.4,341.5 1791.2,325.7 1792.0,324.4 1792.8,322.8 1793.6,317.2 1794.4,313.1 1795.2,317.0 1796.0,324.5 1796.8,319.5 1797.6,326.8 1798.4,326.5 1799.2,332.8 1800.0,320.0 1800.8,307.8 1801.6,315.2 1802.4,343.6 1803.1,333.8 1803.9,321.3 1804.7,323.4 1805.5,324.7 1806.3,320.6 1807.1,327.6 1807.9,332.7 1808.7,338.3 1809.5,321.7 1810.3,322.4 1811.1,322.0 1811.9,325.7 1812.7,336.2 1813.5,317.7 1814.3,341.9 1815.1,330.9 1815.9,336.3 1816.7,316.3 1817.5,321.5 1818.3,320.0 1819.0,325.6 1819.8,309.1 1820.6,329.9 1821.4,309.2 1822.2,328.7 1823.0,334.8 1823.8,324.5 1824.6,323.4 1825.4,323.4 1826.2,322.9 1827.0,327.4 1827.8,333.4 1828.6,330.9 1829.4,338.7 1830.2,325.9 1831.0,320.4 1831.8,320.8 1832.6,313.8 1833.4,321.5 1834.2,319.6 1834.9,339.4 1835.7,329.8 1836.5,339.6 1837.3,308.6 1838.1,327.7 1838.9,334.7 1839.7,327.8 1840.5,319.9 1841.3,326.2 1842.1,325.5 1842.9,325.8 1843.7,327.1 1844.5,334.6 1845.3,326.7 1846.1,327.4 1846.9,324.3 1847.7,329.4 1848.5,315.8 1849.3,330.9 1850.1,320.3 1850.8,334.4 1851.6,317.1 1852.4,323.6 1853.2,322.1 1854.0,312.0 1854.8,337.1 1855.6,329.0 1856.4,325.0 1857.2,339.6 1858.0,320.6 1858.8,324.5 1859.6,338.3 1860.4,343.5 1861.2,325.9 1862.0,343.6 1862.8,327.2 1863.6,315.4 1864.4,331.3 1865.2,340.3 1866.0,327.7 1866.7,331.1 1867.5,312.2 1868.3,303.8 1869.1,328.3 1869.9,307.8 1870.7,324.3 1871.5,317.0 1872.3,326.7 1873.1,335.2 1873.9,304.0 1874.7,322.6 1875.5,322.5 1876.3,340.7 1877.1,324.9 1877.9,313.9 1878.7,316.7 1879.5,344.4 1880.3,312.7 1881.1,324.2 1881.9,326.8 1882.6,309.0 1883.4,313.0 1884.2,302.4 1885.0,311.6 1885.8,331.3 1886.6,325.6 1887.4,301.8 1888.2,341.0 1889.0,305.5 1889.8,310.2 1890.6,343.1 1891.4,328.3 1892.2,321.2 1893.0,341.6 1893.8,321.0 1894.6,326.4 1895.4,314.3 1896.2,320.1 1897.0,320.6 1897.8,336.1 1898.5,313.0 1899.3,318.6 1900.1,299.1 1900.9,299.0 1901.7,330.3 1902.5,315.7 1903.3,316.2 1904.1,329.0 1904.9,316.4 1905.7,322.2 1906.5,317.1 1907.3,298.9 1908.1,329.4 1908.9,341.2 1909.7,337.2 1910.5,322.2 1911.3,325.1 1912.1,326.9 1912.9,342.2 1913.7,338.1 1914.4,317.5 1915.2,320.5 1916.0,319.7 1916.8,314.8 1917.6,314.4 1918.4,321.0 1919.2,301.4 1920.0,327.9 1920.8,317.0 1921.6,306.9 1922.4,320.8 1923.2,313.4 1924.0,339.6 1924.8,309.0 1925.6,324.8 1926.4,328.6 1927.2,313.1 1928.0,308.0 1928.8,329.5 1929.6,319.4 1930.3,312.4 1931.1,306.0 1931.9,333.1 1932.7,344.8 1933.5,318.5 1934.3,332.2 1935.0,346.0 1935.9,338.1 1936.7,318.3 1937.5,332.1 1938.3,333.8 1939.1,346.0 1939.9,328.0 1940.7,337.5 1941.5,334.6 1942.3,332.5 1943.1,314.8 1943.9,328.4 1944.7,340.6 1945.5,321.5 1946.2,327.5 1947.0,317.5 1947.8,327.5 1948.6,328.2 1949.4,331.3 1950.2,321.2 1951.0,320.9 1951.8,319.6 1952.6,327.1 1953.4,326.3 1954.2,339.8 1955.0,318.9 1955.8,330.9 1956.6,319.6 1957.4,320.2 1958.2,334.7 1959.0,328.6 1959.8,329.7 1960.6,311.7 1961.4,341.0 1962.1,341.1 1962.9,317.6 1963.7,311.3 1964.5,317.4 1965.3,327.1 1966.1,315.1 1966.9,327.5 1967.7,317.8 1968.5,342.3 1969.3,322.2 1970.1,319.8 1970.9,342.7 1971.7,328.2 1972.5,324.7 1973.3,324.2 1974.1,330.9 1974.9,319.8 1975.7,325.9 1976.5,318.4 1977.3,309.2 1978.0,320.9 1978.8,326.6 1979.6,343.3 1980.4,327.3 1981.2,320.6 1982.0,326.1 1982.8,331.8 1983.6,303.9 1984.4,319.5 1985.2,303.6 1986.0,303.5 1986.8,315.4 1987.6,323.0 1988.4,325.2 1989.2,326.3 1990.0,341.5 1990.8,330.5 1991.6,329.7 1992.4,320.6 1993.2,346.8 1993.9,341.9 1994.7,317.0 1995.5,317.0 1996.3,335.2 1997.1,338.3 1997.9,320.5 1998.7,340.2 1999.5,308.7 2000.3,322.7 2001.1,338.8 2001.9,317.0 2002.7,326.9 2003.5,324.7 2004.3,321.3 2005.1,301.3 2005.9,320.5 2006.7,327.3 2007.5,327.6 2008.3,335.1 2009.1,337.4 2009.8,320.2 2010.6,322.0 2011.4,346.8 2012.2,336.7 2013.0,325.2 2013.8,322.1 2014.6,338.9 2015.4,338.9 2016.2,323.8 2017.0,330.9 2017.8,325.5 2018.6,324.5 2019.4,345.9 2020.2,308.5 2021.0,334.6 2021.8,311.4 2022.6,316.0 2023.4,335.6 2024.2,308.2 2025.0,312.9 2025.7,310.4 2026.5,317.2 2027.3,328.5 2028.1,339.1 2028.9,316.5 2029.7,335.9 2030.5,309.5 2031.3,344.6 2032.1,318.9 2032.9,318.4 2033.7,327.4 2034.5,325.2 2035.3,322.0 2036.1,303.6 2036.9,334.0 2037.7,332.3 2038.5,319.0 2039.3,309.8 2040.1,326.7 2040.9,336.7 2041.6,303.9 2042.4,310.4 2043.2,324.5 2044.0,314.0 2044.8,319.4 2045.6,322.2 2046.4,332.3 2047.2,332.3 2048.0,334.6 2048.8,333.6 2049.6,316.1 2050.4,304.3 2051.2,326.8 2052.0,328.3 2052.8,328.2 2053.6,315.4 2054.4,342.5 2055.2,304.0 2056.0,332.3 2056.8,330.2 2057.5,333.6 2058.3,339.1 2059.1,328.6 2059.9,326.7 2060.7,319.4 2061.5,331.7 2062.3,327.3 2063.1,332.1 2063.9,309.2 2064.7,304.6 2065.5,323.2 2066.3,328.7 2067.1,304.1 2067.9,310.1 2068.7,318.0 2069.5,325.6 2070.3,325.9 2071.1,334.1 2071.9,319.6 2072.7,326.8 2073.4,337.6 2074.3,241.7 2075.0,342.8 2075.8,315.9 2076.6,322.2 2077.4,297.8 2078.2,319.0 2079.0,312.7 2079.8,311.0 2080.6,323.5 2081.4,304.2 2082.2,322.2 2083.0,295.7 2083.8,311.9 2084.6,337.4 2085.4,320.3 2086.2,326.7 2087.0,305.6 2087.8,300.0 2088.6,337.4 2089.3,332.2 2090.1,330.0 2090.9,318.0 2091.7,334.3 2092.5,312.2 2093.3,327.7 2094.1,327.3 2094.9,305.9 2095.7,338.1 2096.5,320.2 2097.3,329.8 2098.1,297.9 2098.9,302.3 2099.7,313.0 2100.5,326.0 2101.3,335.0 2102.1,324.3 2102.9,317.5 2103.7,327.3 2104.5,316.3 2105.2,321.8 2106.0,325.1 2106.8,310.3 2107.6,325.4 2108.4,300.1 2109.2,308.8 2110.0,329.0 2110.8,311.4 2111.6,326.8 2112.4,323.3 2113.2,317.7 2114.0,340.7 2114.8,326.9 2115.6,312.9 2116.4,313.9 2117.2,322.4 2118.0,301.3 2118.8,335.9 2119.6,320.1 2120.4,299.2 2121.1,308.4 2121.9,339.3 2122.7,324.1 2123.5,342.8 2124.3,321.7 2125.1,327.4 2125.9,342.8 2126.7,342.7 2127.5,310.1 2128.3,332.7 2129.1,308.9 2129.9,316.2 2130.7,301.4 2131.5,329.2 2132.3,309.8 2133.1,312.8 2133.9,342.6 2134.7,333.0 2135.5,320.5 2136.3,302.6 2137.0,326.4 2137.8,303.0 2138.6,312.2 2139.4,330.6 2140.2,332.3 2141.0,324.7 2141.8,332.5 2142.6,325.4 2143.4,314.4 2144.2,323.6 2145.0,342.5 2145.8,323.0 2146.6,327.0 2147.4,329.7 2148.2,308.2 2149.0,312.2 2149.8,306.2 2150.6,327.6 2151.4,319.6 2152.2,309.7 2152.9,309.4 2153.7,331.7 2154.5,332.8 2155.3,328.0 2156.1,323.6 2156.9,328.9 2157.7,323.2 2158.5,327.1 2159.3,318.1 2160.1,310.9 2160.9,313.9 2161.7,325.6 2162.5,342.4 2163.3,312.2 2164.1,309.0 2164.9,330.8 2165.7,330.9 2166.5,313.2 2167.3,314.7 2168.1,314.4 2168.8,325.6 2169.6,342.7 2170.4,312.4 2171.2,325.0 2172.0,315.0 2172.8,322.9 2173.6,326.2 2174.4,324.4 2175.2,308.0 2176.0,308.0 2176.8,332.5 2177.6,323.9 2178.4,322.8 2179.2,327.7 2180.0,310.3 2180.8,335.7 2181.6,309.1 2182.4,305.6 2183.2,306.5 2184.0,317.8 2184.7,342.9 2185.5,319.8 2186.3,323.0 2187.1,339.7 2187.9,313.8 2188.7,323.1 2189.5,319.9 2190.3,316.8 2191.1,313.6 2191.9,314.6 2192.7,319.7 2193.5,343.1 2194.3,329.3 2195.0,296.0 2195.9,311.7 2196.7,309.0 2197.5,307.9 2198.3,317.4 2199.1,314.2 2199.9,317.8 2200.6,341.4 2201.4,323.8 2202.2,326.1 2203.0,310.3 2203.8,302.8 2204.6,325.0 2205.4,319.2 2206.2,328.0 2207.0,324.3 2207.8,330.1 2208.6,318.0 2209.4,329.6 2210.2,335.0 2211.0,318.1 2211.8,320.6 2212.6,335.7 2213.4,329.7 2214.2,322.1 2215.0,308.3 2215.8,321.6 2216.5,340.0 2217.3,320.0 2218.1,322.7 2218.9,315.5 2219.7,323.5 2220.5,324.6 2221.3,327.4 2222.1,318.2 2222.9,313.8 2223.7,342.1 2224.5,326.1 2225.3,316.5 2226.1,323.0 2226.9,329.1 2227.7,334.7 2228.5,327.4 2229.3,321.7 2230.1,329.3 2230.9,312.2 2231.7,316.3 2232.4,335.7 2233.2,326.5 2234.0,324.2 2234.8,319.3 2235.6,314.8 2236.4,326.9 2237.2,325.1 2238.0,339.1 2238.8,317.8 2239.6,324.8 2240.4,321.9 2241.2,317.6 2242.0,338.9 2242.8,335.5 2243.6,325.8 2244.4,313.9 2245.2,327.1 2246.0,328.5 2246.8,320.1 2247.6,313.0 2248.3,338.0 2249.1,314.6 2249.9,332.6 2250.7,319.8 2251.5,321.8 2252.3,332.0 2253.1,316.5 2253.9,322.3 2254.7,324.3 2255.5,333.1 2256.3,331.9 2257.1,325.7 2257.9,315.9 2258.7,333.3 2259.5,321.8 2260.3,326.8 2261.1,313.7 2261.9,323.6 2262.7,328.5 2263.5,322.4 2264.2,329.2 2265.0,334.1 2265.8,336.1 2266.6,321.0 2267.4,314.1 2268.2,313.9 2269.0,322.6 2269.8,313.9 2270.6,328.2 2271.4,313.9 2272.2,332.5 2273.0,325.3 2273.8,314.0 2274.6,326.9 2275.4,329.0 2276.2,328.9 2277.0,324.8 2277.8,329.2 2278.6,328.6 2279.4,322.5 2280.1,325.5 2280.9,315.8 2281.7,330.2 2282.5,315.9 2283.3,323.6 2284.1,316.7 2284.9,331.4 2285.7,326.0 2286.5,317.7 2287.3,326.7 2288.1,323.3 2288.9,329.4 2289.7,325.1 2290.5,324.5 2291.3,323.2 2292.1,314.4 2292.9,328.1 2293.7,329.9 2294.5,318.1 2295.3,328.3"/>
<path class="c" stroke="#00ffff" stroke-width="3" d="M2291 57L2295 50"/>
<path class="c" stroke="#00ff00" stroke-width="3" d="M2291 81L2295 74"/>
</g>
<g class="t">
<text x="94.8" y="78.0" text-anchor="end">CPS</text>
<text x="94.8" y="779.1" text-anchor="end">20</text>
<text x="94.8" y="728.1" text-anchor="end">60</text>
<text x="94.8" y="677.1" text-anchor="end">100</text>
<text x="94.8" y="626.1" text-anchor="end">140</text>
<text x="94.8" y="575.1" text-anchor="end">180</text>
<text x="94.8" y="524.1" text-anchor="end">220</text>
<text x="94.8" y="473.1" text-anchor="end">260</text>
<text x="94.8" y="422.1" text-anchor="end">300</text>
<text x="94.8" y="371.1" text-anchor="end">340</text>
<text x="94.8" y="320.1" text-anchor="end">380</text>
<text x="94.8" y="269.1" text-anchor="end">420</text>
<text x="94.8" y="218.1" text-anchor="end">460</text>
<text x="94.8" y="167.1" text-anchor="end">500</text>
<text x="94.8" y="117.0" text-anchor="end">540</text>
<text x="109.9" y="847.9" text-anchor="middle">5.0</text>
<text x="268.9" y="847.9" text-anchor="middle">9.0</text>
<text x="427.9" y="847.9" text-anchor="middle">13.0</text>
<text x="586.9" y="847.9" text-anchor="middle">17.0</text>
<text x="745.9" y="847.9" text-anchor="middle">21.0</text>
<text x="904.9" y="847.9" text-anchor="middle">25.0</text>
<text x="1063.9" y="847.9" text-anchor="middle">29.0</text>
<text x="1222.9" y="847.9" text-anchor="middle">33.0</text>
<text x="1381.9" y="847.9" text-anchor="middle">37.0</text>
<text x="1540.9" y="847.9" text-anchor="middle">41.0</text>
<text x="1699.9" y="847.9" text-anchor="middle">45.0</text>
<text x="1858.9" y="847.9" text-anchor="middle">49.0</text>
<text x="2017.9" y="847.9" text-anchor="middle">53.0</text>
<text x="2176.9" y="847.9" text-anchor="middle">57.0</text>
<text class="a" x="2132.8" y="887.4">Deg.</text>
<text class="a" x="1483.2" y="213.6"><tspan class="d">30</tspan> Minute HCl AZLB-Na</text>
<text class="a" x="1410.6" y="635">Calcined AZLB-Na</text>
</g>
</svg>
</body></html>
